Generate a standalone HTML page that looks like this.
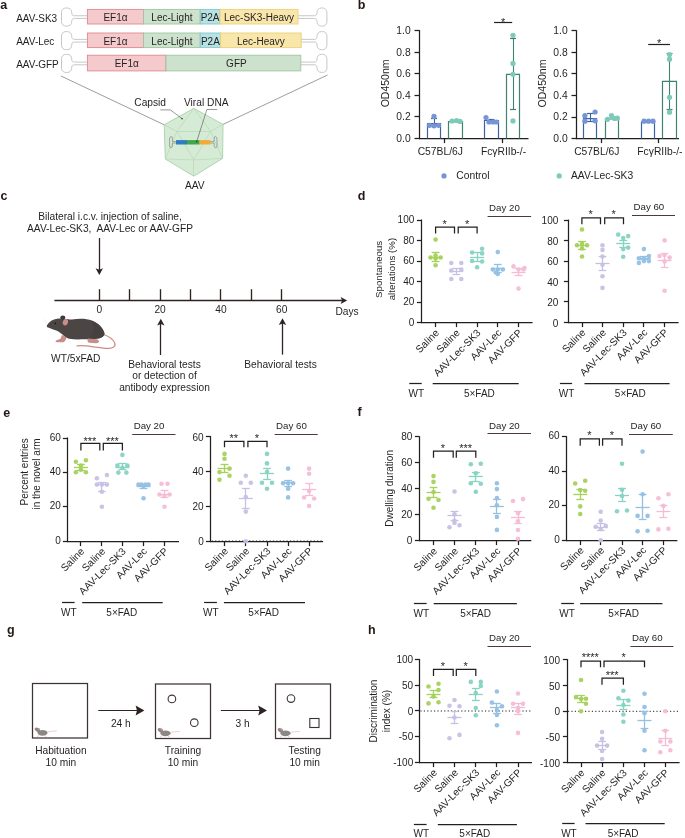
<!DOCTYPE html>
<html><head><meta charset="utf-8"><style>
html,body{margin:0;padding:0;background:#fff;overflow:hidden;}
svg{display:block;will-change:transform;}
svg text{font-family:"Liberation Sans", sans-serif;}
</style></head><body>
<svg width="685" height="838" viewBox="0 0 685 838">
<rect x="0" y="0" width="685" height="838" fill="#fff"/>
<text x="0.30" y="8.70" font-size="12.5" text-anchor="start" font-weight="bold" fill="#231815" >a</text>
<text x="16.20" y="21.70" font-size="10" text-anchor="start" font-weight="normal" fill="#231f20" >AAV-SK3</text>
<path d="M87.40,15.75 L74.30,15.75 C72.40,15.75 71.70,14.75 71.70,12.55 L71.70,12.30 A4.3,4.3 0 0 0 67.40,8.00 L65.80,8.00 A4.3,4.3 0 0 0 61.50,12.30 L61.50,21.80 A4.3,4.3 0 0 0 65.80,26.10 L67.40,26.10 A4.3,4.3 0 0 0 71.70,21.80 L71.70,21.65 C71.70,19.45 72.40,18.45 74.30,18.45 L87.40,18.45" fill="none" stroke="#c4c4c4" stroke-width="0.95"/>
<path d="M298.00,15.75 L314.30,15.75 C316.20,15.75 317.00,14.75 317.00,12.55 L317.00,12.30 A4.3,4.3 0 0 1 321.30,8.00 L322.60,8.00 A4.3,4.3 0 0 1 326.90,12.30 L326.90,21.80 A4.3,4.3 0 0 1 322.60,26.10 L321.30,26.10 A4.3,4.3 0 0 1 317.00,21.80 L317.00,21.65 C317.00,19.45 316.20,18.45 314.30,18.45 L298.00,18.45" fill="none" stroke="#c4c4c4" stroke-width="0.95"/>
<rect x="87.40" y="9.40" width="56.20" height="14.60" fill="#f5cacd" stroke="#de8a90" stroke-width="0.9"/>
<text x="115.50" y="21.10" font-size="10" text-anchor="middle" font-weight="normal" fill="#231f20" >EF1α</text>
<rect x="143.60" y="9.40" width="56.60" height="14.60" fill="#cde2cd" stroke="#9fc59f" stroke-width="0.9"/>
<text x="171.90" y="21.10" font-size="10" text-anchor="middle" font-weight="normal" fill="#231f20" >Lec-Light</text>
<rect x="200.20" y="9.40" width="19.80" height="14.60" fill="#b7e1e2" stroke="#82c8cf" stroke-width="0.9"/>
<text x="210.10" y="21.10" font-size="10" text-anchor="middle" font-weight="normal" fill="#231f20" >P2A</text>
<rect x="220.00" y="9.40" width="78.00" height="14.60" fill="#f8e6ab" stroke="#ead27a" stroke-width="0.9"/>
<text x="259.00" y="21.10" font-size="10" text-anchor="middle" font-weight="normal" fill="#231f20" >Lec-SK3-Heavy</text>
<text x="16.20" y="45.30" font-size="10" text-anchor="start" font-weight="normal" fill="#231f20" >AAV-Lec</text>
<path d="M87.40,39.35 L74.30,39.35 C72.40,39.35 71.70,38.35 71.70,36.15 L71.70,35.90 A4.3,4.3 0 0 0 67.40,31.60 L65.80,31.60 A4.3,4.3 0 0 0 61.50,35.90 L61.50,45.40 A4.3,4.3 0 0 0 65.80,49.70 L67.40,49.70 A4.3,4.3 0 0 0 71.70,45.40 L71.70,45.25 C71.70,43.05 72.40,42.05 74.30,42.05 L87.40,42.05" fill="none" stroke="#c4c4c4" stroke-width="0.95"/>
<path d="M301.20,39.35 L314.30,39.35 C316.20,39.35 317.00,38.35 317.00,36.15 L317.00,35.90 A4.3,4.3 0 0 1 321.30,31.60 L322.60,31.60 A4.3,4.3 0 0 1 326.90,35.90 L326.90,45.40 A4.3,4.3 0 0 1 322.60,49.70 L321.30,49.70 A4.3,4.3 0 0 1 317.00,45.40 L317.00,45.25 C317.00,43.05 316.20,42.05 314.30,42.05 L301.20,42.05" fill="none" stroke="#c4c4c4" stroke-width="0.95"/>
<rect x="87.40" y="33.00" width="56.20" height="14.60" fill="#f5cacd" stroke="#de8a90" stroke-width="0.9"/>
<text x="115.50" y="44.70" font-size="10" text-anchor="middle" font-weight="normal" fill="#231f20" >EF1α</text>
<rect x="143.60" y="33.00" width="56.60" height="14.60" fill="#cde2cd" stroke="#9fc59f" stroke-width="0.9"/>
<text x="171.90" y="44.70" font-size="10" text-anchor="middle" font-weight="normal" fill="#231f20" >Lec-Light</text>
<rect x="200.20" y="33.00" width="20.40" height="14.60" fill="#b7e1e2" stroke="#82c8cf" stroke-width="0.9"/>
<text x="210.40" y="44.70" font-size="10" text-anchor="middle" font-weight="normal" fill="#231f20" >P2A</text>
<rect x="220.60" y="33.00" width="80.60" height="14.60" fill="#f8e6ab" stroke="#ead27a" stroke-width="0.9"/>
<text x="260.90" y="44.70" font-size="10" text-anchor="middle" font-weight="normal" fill="#231f20" >Lec-Heavy</text>
<text x="16.20" y="68.05" font-size="10" text-anchor="start" font-weight="normal" fill="#231f20" >AAV-GFP</text>
<path d="M87.40,62.10 L74.30,62.10 C72.40,62.10 71.70,61.10 71.70,58.90 L71.70,58.65 A4.3,4.3 0 0 0 67.40,54.35 L65.80,54.35 A4.3,4.3 0 0 0 61.50,58.65 L61.50,68.15 A4.3,4.3 0 0 0 65.80,72.45 L67.40,72.45 A4.3,4.3 0 0 0 71.70,68.15 L71.70,68.00 C71.70,65.80 72.40,64.80 74.30,64.80 L87.40,64.80" fill="none" stroke="#c4c4c4" stroke-width="0.95"/>
<path d="M300.80,62.10 L314.30,62.10 C316.20,62.10 317.00,61.10 317.00,58.90 L317.00,58.65 A4.3,4.3 0 0 1 321.30,54.35 L322.60,54.35 A4.3,4.3 0 0 1 326.90,58.65 L326.90,68.15 A4.3,4.3 0 0 1 322.60,72.45 L321.30,72.45 A4.3,4.3 0 0 1 317.00,68.15 L317.00,68.00 C317.00,65.80 316.20,64.80 314.30,64.80 L300.80,64.80" fill="none" stroke="#c4c4c4" stroke-width="0.95"/>
<rect x="87.40" y="55.20" width="78.60" height="15.70" fill="#f5cacd" stroke="#de8a90" stroke-width="0.9"/>
<text x="126.70" y="67.45" font-size="10" text-anchor="middle" font-weight="normal" fill="#231f20" >EF1α</text>
<rect x="166.00" y="55.20" width="134.80" height="15.70" fill="#cde2cd" stroke="#9fc59f" stroke-width="0.9"/>
<text x="236.40" y="67.45" font-size="10" text-anchor="middle" font-weight="normal" fill="#231f20" >GFP</text>
<line x1="61.00" y1="76.00" x2="164.20" y2="124.80" stroke="#5a5a5a" stroke-width="0.6" />
<line x1="327.50" y1="75.00" x2="223.00" y2="124.40" stroke="#5a5a5a" stroke-width="0.6" />
<polygon points="193.8,108.3 223.0,124.4 222.6,158.4 193.8,176.2 165.3,159.0 164.2,124.8" fill="#d6ebd6" stroke="#a9d0a9" stroke-width="0.9"/>
<line x1="193.80" y1="108.30" x2="177.00" y2="131.40" stroke="#b5d8b5" stroke-width="0.7" />
<line x1="193.80" y1="108.30" x2="210.60" y2="131.40" stroke="#b5d8b5" stroke-width="0.7" />
<line x1="177.00" y1="131.50" x2="210.60" y2="131.50" stroke="#b5d8b5" stroke-width="0.7" />
<line x1="177.00" y1="131.40" x2="193.80" y2="159.90" stroke="#b5d8b5" stroke-width="0.7" />
<line x1="210.60" y1="131.40" x2="193.80" y2="159.90" stroke="#b5d8b5" stroke-width="0.7" />
<line x1="193.50" y1="159.90" x2="193.50" y2="176.20" stroke="#b5d8b5" stroke-width="0.7" />
<line x1="164.20" y1="124.80" x2="177.00" y2="131.40" stroke="#b5d8b5" stroke-width="0.7" />
<line x1="223.00" y1="124.40" x2="210.60" y2="131.40" stroke="#b5d8b5" stroke-width="0.7" />
<line x1="177.00" y1="131.40" x2="165.30" y2="159.00" stroke="#b5d8b5" stroke-width="0.7" />
<line x1="210.60" y1="131.40" x2="222.60" y2="158.40" stroke="#b5d8b5" stroke-width="0.7" />
<line x1="165.30" y1="159.00" x2="193.80" y2="159.90" stroke="#b5d8b5" stroke-width="0.7" />
<line x1="222.60" y1="158.40" x2="193.80" y2="159.90" stroke="#b5d8b5" stroke-width="0.7" />
<rect x="176" y="140.1" width="11" height="4.4" fill="#2f7cc2"/>
<rect x="187" y="140.1" width="12.6" height="4.4" fill="#40a84a"/>
<rect x="199.6" y="140.1" width="11" height="4.4" fill="#f2a93a"/>
<path d="M176,141.6 L172.5,141.6 L172.5,139.2 Q172.5,136 170.8,136.5 Q169.6,137 169.6,139 L169.6,145.5 Q169.6,147.6 170.8,147.8 Q172.5,148 172.5,145 L172.5,143 L176,143" fill="none" stroke="#777" stroke-width="0.6"/>
<path d="M210.6,141.6 L214.1,141.6 L214.1,139.2 Q214.1,136 215.8,136.5 Q217,137 217,139 L217,145.5 Q217,147.6 215.8,147.8 Q214.1,148 214.1,145 L214.1,143 L210.6,143" fill="none" stroke="#777" stroke-width="0.6"/>
<text x="134.30" y="106.40" font-size="10.2" text-anchor="start" font-weight="normal" fill="#231f20" >Capsid</text>
<text x="184.00" y="106.40" font-size="10.2" text-anchor="start" font-weight="normal" fill="#231f20" >Viral DNA</text>
<text x="194.70" y="189.40" font-size="10.2" text-anchor="middle" font-weight="normal" fill="#231f20" >AAV</text>
<polyline points="160.2,109.9 170.4,109.9 182.1,118.7" fill="none" stroke="#333" stroke-width="0.5"/>
<circle cx="182.1" cy="118.7" r="0.7" fill="#222"/>
<polyline points="217.2,109.5 206.9,109.5 196.7,141.6" fill="none" stroke="#333" stroke-width="0.5"/>
<circle cx="196.7" cy="141.6" r="0.7" fill="#222"/>
<text x="357.80" y="9.20" font-size="12.5" text-anchor="start" font-weight="bold" fill="#231815" >b</text>
<line x1="419.50" y1="30.10" x2="419.50" y2="139.10" stroke="#231f20" stroke-width="1.25" />
<line x1="414.50" y1="138.50" x2="419.50" y2="138.50" stroke="#231f20" stroke-width="1.25" />
<text x="410.70" y="141.80" font-size="10.3" text-anchor="end" font-weight="normal" fill="#231f20" >0.0</text>
<line x1="414.50" y1="116.50" x2="419.50" y2="116.50" stroke="#231f20" stroke-width="1.25" />
<text x="410.70" y="120.24" font-size="10.3" text-anchor="end" font-weight="normal" fill="#231f20" >0.2</text>
<line x1="414.50" y1="95.50" x2="419.50" y2="95.50" stroke="#231f20" stroke-width="1.25" />
<text x="410.70" y="98.68" font-size="10.3" text-anchor="end" font-weight="normal" fill="#231f20" >0.4</text>
<line x1="414.50" y1="73.50" x2="419.50" y2="73.50" stroke="#231f20" stroke-width="1.25" />
<text x="410.70" y="77.12" font-size="10.3" text-anchor="end" font-weight="normal" fill="#231f20" >0.6</text>
<line x1="414.50" y1="52.50" x2="419.50" y2="52.50" stroke="#231f20" stroke-width="1.25" />
<text x="410.70" y="55.56" font-size="10.3" text-anchor="end" font-weight="normal" fill="#231f20" >0.8</text>
<line x1="414.50" y1="30.50" x2="419.50" y2="30.50" stroke="#231f20" stroke-width="1.25" />
<text x="410.70" y="34.00" font-size="10.3" text-anchor="end" font-weight="normal" fill="#231f20" >1.0</text>
<line x1="418.90" y1="138.50" x2="528.50" y2="138.50" stroke="#231f20" stroke-width="1.25" />
<path d="M427.50,138.50 L427.50,123.60 L440.50,123.60 L440.50,138.50" fill="none" stroke="#3c62a6" stroke-width="1.2"/>
<line x1="434.50" y1="125.50" x2="434.50" y2="118.30" stroke="#3c62a6" stroke-width="1.1" />
<line x1="431.00" y1="118.50" x2="437.00" y2="118.50" stroke="#3c62a6" stroke-width="1.2" />
<line x1="431.00" y1="125.50" x2="437.00" y2="125.50" stroke="#3c62a6" stroke-width="1.2" />
<circle cx="434.00" cy="116.40" r="2.6" fill="#7595d4"/>
<circle cx="429.50" cy="125.30" r="2.6" fill="#7595d4"/>
<circle cx="434.00" cy="125.80" r="2.6" fill="#7595d4"/>
<circle cx="438.50" cy="125.30" r="2.6" fill="#7595d4"/>
<path d="M448.50,138.50 L448.50,121.60 L462.50,121.60 L462.50,138.50" fill="none" stroke="#3f8272" stroke-width="1.2"/>
<circle cx="452.00" cy="121.00" r="2.6" fill="#7ecab8"/>
<circle cx="456.50" cy="120.60" r="2.6" fill="#7ecab8"/>
<circle cx="460.00" cy="121.40" r="2.6" fill="#7ecab8"/>
<path d="M484.50,138.50 L484.50,120.50 L498.50,120.50 L498.50,138.50" fill="none" stroke="#3c62a6" stroke-width="1.2"/>
<line x1="491.50" y1="122.00" x2="491.50" y2="119.80" stroke="#3c62a6" stroke-width="1.1" />
<line x1="488.50" y1="119.50" x2="494.50" y2="119.50" stroke="#3c62a6" stroke-width="1.2" />
<line x1="488.50" y1="122.50" x2="494.50" y2="122.50" stroke="#3c62a6" stroke-width="1.2" />
<circle cx="486.00" cy="117.60" r="2.6" fill="#7595d4"/>
<circle cx="489.00" cy="122.00" r="2.6" fill="#7595d4"/>
<circle cx="493.00" cy="122.00" r="2.6" fill="#7595d4"/>
<circle cx="496.50" cy="122.00" r="2.6" fill="#7595d4"/>
<path d="M506.50,138.50 L506.50,74.30 L519.50,74.30 L519.50,138.50" fill="none" stroke="#3f8272" stroke-width="1.2"/>
<line x1="513.50" y1="109.10" x2="513.50" y2="38.20" stroke="#3f8272" stroke-width="1.1" />
<line x1="510.00" y1="38.50" x2="516.00" y2="38.50" stroke="#3f8272" stroke-width="1.2" />
<line x1="510.00" y1="109.50" x2="516.00" y2="109.50" stroke="#3f8272" stroke-width="1.2" />
<circle cx="513.00" cy="35.30" r="2.6" fill="#7ecab8"/>
<circle cx="513.00" cy="63.40" r="2.6" fill="#7ecab8"/>
<circle cx="513.00" cy="74.30" r="2.6" fill="#7ecab8"/>
<circle cx="513.00" cy="120.90" r="2.6" fill="#7ecab8"/>
<line x1="444.50" y1="138.50" x2="444.50" y2="143.10" stroke="#231f20" stroke-width="1.25" />
<text x="440.30" y="154.80" font-size="10.3" text-anchor="middle" font-weight="normal" fill="#231f20" >C57BL/6J</text>
<line x1="502.50" y1="138.50" x2="502.50" y2="143.10" stroke="#231f20" stroke-width="1.25" />
<text x="503.50" y="154.80" font-size="10.3" text-anchor="middle" font-weight="normal" fill="#231f20" >FcγRIIb-/-</text>
<line x1="494.00" y1="22.50" x2="512.20" y2="22.50" stroke="#231f20" stroke-width="1.2" />
<text x="503.10" y="25.80" font-size="11" text-anchor="middle" font-weight="normal" fill="#231f20" >*</text>
<text x="0" y="0" font-size="10.5" text-anchor="middle" fill="#231f20" transform="translate(388.70,83.40) rotate(-90)">OD450nm</text>
<line x1="576.50" y1="30.20" x2="576.50" y2="139.10" stroke="#231f20" stroke-width="1.25" />
<line x1="571.50" y1="138.50" x2="576.50" y2="138.50" stroke="#231f20" stroke-width="1.25" />
<text x="567.70" y="141.90" font-size="10.3" text-anchor="end" font-weight="normal" fill="#231f20" >0.0</text>
<line x1="571.50" y1="117.50" x2="576.50" y2="117.50" stroke="#231f20" stroke-width="1.25" />
<text x="567.70" y="120.34" font-size="10.3" text-anchor="end" font-weight="normal" fill="#231f20" >0.2</text>
<line x1="571.50" y1="95.50" x2="576.50" y2="95.50" stroke="#231f20" stroke-width="1.25" />
<text x="567.70" y="98.78" font-size="10.3" text-anchor="end" font-weight="normal" fill="#231f20" >0.4</text>
<line x1="571.50" y1="73.50" x2="576.50" y2="73.50" stroke="#231f20" stroke-width="1.25" />
<text x="567.70" y="77.22" font-size="10.3" text-anchor="end" font-weight="normal" fill="#231f20" >0.6</text>
<line x1="571.50" y1="52.50" x2="576.50" y2="52.50" stroke="#231f20" stroke-width="1.25" />
<text x="567.70" y="55.66" font-size="10.3" text-anchor="end" font-weight="normal" fill="#231f20" >0.8</text>
<line x1="571.50" y1="30.50" x2="576.50" y2="30.50" stroke="#231f20" stroke-width="1.25" />
<text x="567.70" y="34.10" font-size="10.3" text-anchor="end" font-weight="normal" fill="#231f20" >1.0</text>
<line x1="575.90" y1="138.50" x2="679.00" y2="138.50" stroke="#231f20" stroke-width="1.25" />
<path d="M583.50,138.60 L583.50,118.60 L596.50,118.60 L596.50,138.60" fill="none" stroke="#3c62a6" stroke-width="1.2"/>
<line x1="590.50" y1="121.50" x2="590.50" y2="113.50" stroke="#3c62a6" stroke-width="1.1" />
<line x1="587.00" y1="113.50" x2="593.00" y2="113.50" stroke="#3c62a6" stroke-width="1.2" />
<line x1="587.00" y1="121.50" x2="593.00" y2="121.50" stroke="#3c62a6" stroke-width="1.2" />
<circle cx="584.90" cy="115.70" r="2.6" fill="#7595d4"/>
<circle cx="595.10" cy="112.00" r="2.6" fill="#7595d4"/>
<circle cx="584.90" cy="121.20" r="2.6" fill="#7595d4"/>
<circle cx="595.10" cy="120.80" r="2.6" fill="#7595d4"/>
<path d="M605.50,138.60 L605.50,119.00 L618.50,119.00 L618.50,138.60" fill="none" stroke="#3f8272" stroke-width="1.2"/>
<circle cx="607.50" cy="119.30" r="2.6" fill="#7ecab8"/>
<circle cx="611.50" cy="115.70" r="2.6" fill="#7ecab8"/>
<circle cx="614.50" cy="118.50" r="2.6" fill="#7ecab8"/>
<circle cx="617.30" cy="118.20" r="2.6" fill="#7ecab8"/>
<path d="M641.50,138.60 L641.50,122.20 L654.50,122.20 L654.50,138.60" fill="none" stroke="#3c62a6" stroke-width="1.2"/>
<circle cx="644.00" cy="121.20" r="2.6" fill="#7595d4"/>
<circle cx="648.50" cy="121.20" r="2.6" fill="#7595d4"/>
<circle cx="653.00" cy="121.20" r="2.6" fill="#7595d4"/>
<path d="M662.50,138.60 L662.50,81.40 L676.50,81.40 L676.50,138.60" fill="none" stroke="#3f8272" stroke-width="1.2"/>
<line x1="669.50" y1="109.20" x2="669.50" y2="53.30" stroke="#3f8272" stroke-width="1.1" />
<line x1="666.50" y1="53.50" x2="672.50" y2="53.50" stroke="#3f8272" stroke-width="1.2" />
<line x1="666.50" y1="109.50" x2="672.50" y2="109.50" stroke="#3f8272" stroke-width="1.2" />
<circle cx="669.50" cy="54.50" r="2.6" fill="#7ecab8"/>
<circle cx="669.50" cy="59.20" r="2.6" fill="#7ecab8"/>
<circle cx="669.50" cy="97.30" r="2.6" fill="#7ecab8"/>
<circle cx="669.50" cy="112.20" r="2.6" fill="#7ecab8"/>
<line x1="601.50" y1="138.50" x2="601.50" y2="143.10" stroke="#231f20" stroke-width="1.25" />
<text x="596.80" y="154.90" font-size="10.3" text-anchor="middle" font-weight="normal" fill="#231f20" >C57BL/6J</text>
<line x1="658.50" y1="138.50" x2="658.50" y2="143.10" stroke="#231f20" stroke-width="1.25" />
<text x="659.90" y="154.90" font-size="10.3" text-anchor="middle" font-weight="normal" fill="#231f20" >FcγRIIb-/-</text>
<line x1="648.20" y1="44.50" x2="670.00" y2="44.50" stroke="#231f20" stroke-width="1.2" />
<text x="659.10" y="46.90" font-size="11" text-anchor="middle" font-weight="normal" fill="#231f20" >*</text>
<text x="0" y="0" font-size="10.5" text-anchor="middle" fill="#231f20" transform="translate(545.80,83.50) rotate(-90)">OD450nm</text>
<circle cx="444.0" cy="175.9" r="2.6" fill="#7595d4"/>
<text x="456.30" y="179.30" font-size="10.3" text-anchor="start" font-weight="normal" fill="#231f20" >Control</text>
<circle cx="559.2" cy="175.9" r="2.6" fill="#7ecab8"/>
<text x="571.00" y="179.30" font-size="10.3" text-anchor="start" font-weight="normal" fill="#231f20" >AAV-Lec-SK3</text>
<text x="0.40" y="200.10" font-size="12.5" text-anchor="start" font-weight="bold" fill="#231815" >c</text>
<text x="110.00" y="219.80" font-size="10.2" text-anchor="middle" font-weight="normal" fill="#231f20" >Bilateral i.c.v. injection of saline,</text>
<text x="110.00" y="232.00" font-size="10.2" text-anchor="middle" font-weight="normal" fill="#231f20" >AAV-Lec-SK3,&#160; AAV-Lec or AAV-GFP</text>
<line x1="99.50" y1="238.00" x2="99.50" y2="271.00" stroke="#2f2222" stroke-width="1.3" />
<path d="M95.60,268.20 L99.30,275.00 L103.00,268.20 L99.30,269.80 Z" fill="#2f2222"/>
<line x1="54.40" y1="300.50" x2="343.20" y2="300.50" stroke="#2f2222" stroke-width="1.3" />
<path d="M340.60,296.90 L347.20,300.50 L340.60,304.10 L342.10,300.50 Z" fill="#2f2222"/>
<line x1="99.50" y1="289.20" x2="99.50" y2="300.50" stroke="#2f2222" stroke-width="1.35" />
<line x1="129.50" y1="289.20" x2="129.50" y2="300.50" stroke="#2f2222" stroke-width="1.35" />
<line x1="160.50" y1="289.20" x2="160.50" y2="300.50" stroke="#2f2222" stroke-width="1.35" />
<line x1="190.50" y1="289.20" x2="190.50" y2="300.50" stroke="#2f2222" stroke-width="1.35" />
<line x1="220.50" y1="289.20" x2="220.50" y2="300.50" stroke="#2f2222" stroke-width="1.35" />
<line x1="251.50" y1="289.20" x2="251.50" y2="300.50" stroke="#2f2222" stroke-width="1.35" />
<line x1="281.50" y1="289.20" x2="281.50" y2="300.50" stroke="#2f2222" stroke-width="1.35" />
<text x="99.30" y="312.60" font-size="10.2" text-anchor="middle" font-weight="normal" fill="#231f20" >0</text>
<text x="160.10" y="312.60" font-size="10.2" text-anchor="middle" font-weight="normal" fill="#231f20" >20</text>
<text x="220.90" y="312.60" font-size="10.2" text-anchor="middle" font-weight="normal" fill="#231f20" >40</text>
<text x="281.70" y="312.60" font-size="10.2" text-anchor="middle" font-weight="normal" fill="#231f20" >60</text>
<text x="335.40" y="315.10" font-size="10.2" text-anchor="start" font-weight="normal" fill="#231f20" >Days</text>
<line x1="160.50" y1="322.80" x2="160.50" y2="355.00" stroke="#2f2222" stroke-width="1.3" />
<path d="M157.10,325.60 L160.80,318.80 L164.50,325.60 L160.80,324.00 Z" fill="#2f2222"/>
<line x1="282.50" y1="322.30" x2="282.50" y2="354.60" stroke="#2f2222" stroke-width="1.3" />
<path d="M278.80,325.10 L282.50,318.30 L286.20,325.10 L282.50,323.50 Z" fill="#2f2222"/>
<text x="164.50" y="367.60" font-size="10.2" text-anchor="middle" font-weight="normal" fill="#231f20" >Behavioral tests</text>
<text x="164.50" y="379.00" font-size="10.2" text-anchor="middle" font-weight="normal" fill="#231f20" >or detection of</text>
<text x="164.50" y="391.00" font-size="10.2" text-anchor="middle" font-weight="normal" fill="#231f20" >antibody expression</text>
<text x="280.50" y="367.60" font-size="10.2" text-anchor="middle" font-weight="normal" fill="#231f20" >Behavioral tests</text>
<text x="75.70" y="361.80" font-size="10.2" text-anchor="middle" font-weight="normal" fill="#231f20" >WT/5xFAD</text>
<path d="M103.5,334.5 C108,336 113,339 114.7,343 C116,346.5 113,348.6 108,348.4 C100,348 92,346.5 86,345.9 C82,345.5 79,345.5 77,345.8" fill="none" stroke="#c98e89" stroke-width="1.25" stroke-linecap="round"/>
<path d="M47,325.2 C49,321.5 53,319.6 57,318.8 C63,317.6 68,319.5 72,319.6 C78,318.4 86,318.2 92,320.6 C98,323 103,327.5 104.4,333 C104.8,336.4 101,338.5 96,338.8 C92,339.5 88,339.3 85,339.2 C80,339.4 74,339.6 69,338.8 C66.5,338 64.5,336.8 63,335 C61,333 59,332 57.5,331 C54,329.8 50.5,328.6 48.2,327.6 C46.8,327 46.5,326 47,325.2 Z" fill="#4b4644"/>
<path d="M92,321 C98,323.5 103,328 104.4,333 C104.8,336.4 101,338.5 96,338.8 C93,339.3 90,339.2 88,339 C93,336 96,331 92,321 Z" fill="#454140"/>
<path d="M62,335 L60.5,338.8 L56,340.6 C55,341.5 55.8,342.2 57,342.2 L63.5,342.2 C65,341.6 66,339.5 66.5,337.2 Z" fill="#c98e89"/>
<path d="M88,338.6 L87.3,341 L88.8,342.8 L96,343.2 C98,343.2 99.5,342.2 99,341 L97.2,339.2 Z" fill="#c98e89"/>
<ellipse cx="62.8" cy="317.4" rx="2.5" ry="2.0" fill="#3d3938"/>
<ellipse cx="65.4" cy="322.2" rx="2.6" ry="3.3" fill="#c98e89" transform="rotate(15 65.4 322.2)"/>
<circle cx="55.3" cy="323.4" r="0.8" fill="#1a1616"/>
<path d="M47,323.5 L44.5,319 M47.3,324 L45,321.5" stroke="#e4e4e4" stroke-width="0.5"/>
<text x="357.80" y="199.70" font-size="12.5" text-anchor="start" font-weight="bold" fill="#231815" >d</text>
<text x="0" y="0" font-size="9.7" text-anchor="middle" fill="#231f20" transform="translate(381.90,269.40) rotate(-90)">Spontaneous</text>
<text x="0" y="0" font-size="9.7" text-anchor="middle" fill="#231f20" transform="translate(394.70,269.10) rotate(-90)">alterations (%)</text>
<line x1="421.50" y1="219.50" x2="421.50" y2="323.10" stroke="#231f20" stroke-width="1.25" />
<line x1="416.90" y1="322.50" x2="421.50" y2="322.50" stroke="#231f20" stroke-width="1.25" />
<text x="414.30" y="325.70" font-size="10.0" text-anchor="end" font-weight="normal" fill="#231f20" >0</text>
<line x1="416.90" y1="302.50" x2="421.50" y2="302.50" stroke="#231f20" stroke-width="1.25" />
<text x="414.30" y="305.18" font-size="10.0" text-anchor="end" font-weight="normal" fill="#231f20" >20</text>
<line x1="416.90" y1="281.50" x2="421.50" y2="281.50" stroke="#231f20" stroke-width="1.25" />
<text x="414.30" y="284.66" font-size="10.0" text-anchor="end" font-weight="normal" fill="#231f20" >40</text>
<line x1="416.90" y1="261.50" x2="421.50" y2="261.50" stroke="#231f20" stroke-width="1.25" />
<text x="414.30" y="264.14" font-size="10.0" text-anchor="end" font-weight="normal" fill="#231f20" >60</text>
<line x1="416.90" y1="240.50" x2="421.50" y2="240.50" stroke="#231f20" stroke-width="1.25" />
<text x="414.30" y="243.62" font-size="10.0" text-anchor="end" font-weight="normal" fill="#231f20" >80</text>
<line x1="416.90" y1="220.50" x2="421.50" y2="220.50" stroke="#231f20" stroke-width="1.25" />
<text x="414.30" y="223.10" font-size="10.0" text-anchor="end" font-weight="normal" fill="#231f20" >100</text>
<line x1="420.90" y1="322.50" x2="532.60" y2="322.50" stroke="#231f20" stroke-width="1.25" />
<line x1="435.50" y1="322.50" x2="435.50" y2="327.10" stroke="#231f20" stroke-width="1.25" />
<text x="0" y="0" font-size="10.2" text-anchor="end" fill="#231f20" transform="translate(439.80,333.50) rotate(-45)">Saline</text>
<line x1="456.50" y1="322.50" x2="456.50" y2="327.10" stroke="#231f20" stroke-width="1.25" />
<text x="0" y="0" font-size="10.2" text-anchor="end" fill="#231f20" transform="translate(460.50,333.50) rotate(-45)">Saline</text>
<line x1="477.50" y1="322.50" x2="477.50" y2="327.10" stroke="#231f20" stroke-width="1.25" />
<text x="0" y="0" font-size="10.2" text-anchor="end" fill="#231f20" transform="translate(481.30,333.50) rotate(-45)">AAV-Lec-SK3</text>
<line x1="497.50" y1="322.50" x2="497.50" y2="327.10" stroke="#231f20" stroke-width="1.25" />
<text x="0" y="0" font-size="10.2" text-anchor="end" fill="#231f20" transform="translate(502.00,333.50) rotate(-45)">AAV-Lec</text>
<line x1="518.50" y1="322.50" x2="518.50" y2="327.10" stroke="#231f20" stroke-width="1.25" />
<text x="0" y="0" font-size="10.2" text-anchor="end" fill="#231f20" transform="translate(522.70,333.50) rotate(-45)">AAV-GFP</text>
<circle cx="435.60" cy="239.60" r="2.3" fill="#a6d15b" fill-opacity="0.95"/>
<circle cx="430.60" cy="257.50" r="2.3" fill="#a6d15b" fill-opacity="0.95"/>
<circle cx="435.60" cy="258.50" r="2.3" fill="#a6d15b" fill-opacity="0.95"/>
<circle cx="440.60" cy="257.50" r="2.3" fill="#a6d15b" fill-opacity="0.95"/>
<circle cx="435.60" cy="255.50" r="2.3" fill="#a6d15b" fill-opacity="0.95"/>
<circle cx="435.60" cy="265.20" r="2.3" fill="#a6d15b" fill-opacity="0.95"/>
<line x1="428.60" y1="257.50" x2="442.60" y2="257.50" stroke="#a6d15b" stroke-width="1.3" />
<line x1="435.50" y1="252.60" x2="435.50" y2="261.00" stroke="#a6d15b" stroke-width="1.3" />
<line x1="431.70" y1="252.50" x2="439.50" y2="252.50" stroke="#a6d15b" stroke-width="1.3" />
<line x1="431.70" y1="261.50" x2="439.50" y2="261.50" stroke="#a6d15b" stroke-width="1.3" />
<circle cx="451.30" cy="263.00" r="2.3" fill="#c5c1e5" fill-opacity="0.95"/>
<circle cx="461.30" cy="263.00" r="2.3" fill="#c5c1e5" fill-opacity="0.95"/>
<circle cx="451.30" cy="270.50" r="2.3" fill="#c5c1e5" fill-opacity="0.95"/>
<circle cx="461.30" cy="269.50" r="2.3" fill="#c5c1e5" fill-opacity="0.95"/>
<circle cx="451.30" cy="279.00" r="2.3" fill="#c5c1e5" fill-opacity="0.95"/>
<circle cx="461.30" cy="279.00" r="2.3" fill="#c5c1e5" fill-opacity="0.95"/>
<line x1="449.30" y1="271.50" x2="463.30" y2="271.50" stroke="#c5c1e5" stroke-width="1.3" />
<line x1="456.50" y1="268.70" x2="456.50" y2="274.00" stroke="#c5c1e5" stroke-width="1.3" />
<line x1="452.40" y1="268.50" x2="460.20" y2="268.50" stroke="#c5c1e5" stroke-width="1.3" />
<line x1="452.40" y1="274.50" x2="460.20" y2="274.50" stroke="#c5c1e5" stroke-width="1.3" />
<circle cx="482.10" cy="248.80" r="2.3" fill="#86d3c2" fill-opacity="0.95"/>
<circle cx="472.10" cy="252.50" r="2.3" fill="#86d3c2" fill-opacity="0.95"/>
<circle cx="482.10" cy="253.40" r="2.3" fill="#86d3c2" fill-opacity="0.95"/>
<circle cx="472.10" cy="261.00" r="2.3" fill="#86d3c2" fill-opacity="0.95"/>
<circle cx="482.10" cy="261.50" r="2.3" fill="#86d3c2" fill-opacity="0.95"/>
<circle cx="477.10" cy="267.20" r="2.3" fill="#86d3c2" fill-opacity="0.95"/>
<line x1="470.10" y1="257.50" x2="484.10" y2="257.50" stroke="#86d3c2" stroke-width="1.3" />
<line x1="477.50" y1="252.60" x2="477.50" y2="261.00" stroke="#86d3c2" stroke-width="1.3" />
<line x1="473.20" y1="252.50" x2="481.00" y2="252.50" stroke="#86d3c2" stroke-width="1.3" />
<line x1="473.20" y1="261.50" x2="481.00" y2="261.50" stroke="#86d3c2" stroke-width="1.3" />
<circle cx="497.80" cy="252.10" r="2.3" fill="#93c0e3" fill-opacity="0.95"/>
<circle cx="492.80" cy="269.50" r="2.3" fill="#93c0e3" fill-opacity="0.95"/>
<circle cx="497.80" cy="269.50" r="2.3" fill="#93c0e3" fill-opacity="0.95"/>
<circle cx="502.80" cy="269.50" r="2.3" fill="#93c0e3" fill-opacity="0.95"/>
<circle cx="495.80" cy="272.50" r="2.3" fill="#93c0e3" fill-opacity="0.95"/>
<circle cx="497.80" cy="274.00" r="2.3" fill="#93c0e3" fill-opacity="0.95"/>
<line x1="490.80" y1="268.50" x2="504.80" y2="268.50" stroke="#93c0e3" stroke-width="1.3" />
<line x1="497.50" y1="264.50" x2="497.50" y2="272.50" stroke="#93c0e3" stroke-width="1.3" />
<line x1="493.90" y1="264.50" x2="501.70" y2="264.50" stroke="#93c0e3" stroke-width="1.3" />
<line x1="493.90" y1="272.50" x2="501.70" y2="272.50" stroke="#93c0e3" stroke-width="1.3" />
<circle cx="513.50" cy="266.40" r="2.3" fill="#f6bcd6" fill-opacity="0.95"/>
<circle cx="518.50" cy="269.50" r="2.3" fill="#f6bcd6" fill-opacity="0.95"/>
<circle cx="523.50" cy="269.50" r="2.3" fill="#f6bcd6" fill-opacity="0.95"/>
<circle cx="524.50" cy="268.00" r="2.3" fill="#f6bcd6" fill-opacity="0.95"/>
<circle cx="518.50" cy="288.60" r="2.3" fill="#f6bcd6" fill-opacity="0.95"/>
<line x1="511.50" y1="272.50" x2="525.50" y2="272.50" stroke="#f6bcd6" stroke-width="1.3" />
<line x1="518.50" y1="268.50" x2="518.50" y2="275.60" stroke="#f6bcd6" stroke-width="1.3" />
<line x1="514.60" y1="268.50" x2="522.40" y2="268.50" stroke="#f6bcd6" stroke-width="1.3" />
<line x1="514.60" y1="275.50" x2="522.40" y2="275.50" stroke="#f6bcd6" stroke-width="1.3" />
<polyline points="435.60,233.60 435.60,227.20 454.50,227.20 454.50,233.60" fill="none" stroke="#231f20" stroke-width="1.25"/>
<text x="444.55" y="228.10" font-size="11" text-anchor="middle" font-weight="normal" fill="#231f20" >*</text>
<polyline points="458.20,233.60 458.20,227.20 477.10,227.20 477.10,233.60" fill="none" stroke="#231f20" stroke-width="1.25"/>
<text x="467.15" y="228.10" font-size="11" text-anchor="middle" font-weight="normal" fill="#231f20" >*</text>
<text x="489.10" y="211.30" font-size="9.7" text-anchor="start" font-weight="normal" fill="#231f20" >Day 20</text>
<line x1="487.60" y1="216.50" x2="531.10" y2="216.50" stroke="#4a3a3a" stroke-width="1.1" />
<line x1="409.30" y1="383.50" x2="421.70" y2="383.50" stroke="#231f20" stroke-width="1.25" />
<line x1="432.70" y1="383.50" x2="518.70" y2="383.50" stroke="#231f20" stroke-width="1.25" />
<text x="416.30" y="396.80" font-size="10.0" text-anchor="middle" font-weight="normal" fill="#231f20" >WT</text>
<text x="479.40" y="396.80" font-size="10.0" text-anchor="middle" font-weight="normal" fill="#231f20" >5×FAD</text>
<line x1="568.50" y1="219.60" x2="568.50" y2="323.10" stroke="#231f20" stroke-width="1.25" />
<line x1="563.90" y1="322.50" x2="568.50" y2="322.50" stroke="#231f20" stroke-width="1.25" />
<text x="558.30" y="326.50" font-size="10.0" text-anchor="end" font-weight="normal" fill="#231f20" >0</text>
<line x1="563.90" y1="301.50" x2="568.50" y2="301.50" stroke="#231f20" stroke-width="1.25" />
<text x="558.30" y="306.06" font-size="10.0" text-anchor="end" font-weight="normal" fill="#231f20" >20</text>
<line x1="563.90" y1="281.50" x2="568.50" y2="281.50" stroke="#231f20" stroke-width="1.25" />
<text x="558.30" y="285.62" font-size="10.0" text-anchor="end" font-weight="normal" fill="#231f20" >40</text>
<line x1="563.90" y1="261.50" x2="568.50" y2="261.50" stroke="#231f20" stroke-width="1.25" />
<text x="558.30" y="265.18" font-size="10.0" text-anchor="end" font-weight="normal" fill="#231f20" >60</text>
<line x1="563.90" y1="240.50" x2="568.50" y2="240.50" stroke="#231f20" stroke-width="1.25" />
<text x="558.30" y="244.74" font-size="10.0" text-anchor="end" font-weight="normal" fill="#231f20" >80</text>
<line x1="563.90" y1="220.50" x2="568.50" y2="220.50" stroke="#231f20" stroke-width="1.25" />
<text x="558.30" y="224.30" font-size="10.0" text-anchor="end" font-weight="normal" fill="#231f20" >100</text>
<line x1="567.90" y1="322.50" x2="678.60" y2="322.50" stroke="#231f20" stroke-width="1.25" />
<line x1="582.50" y1="322.50" x2="582.50" y2="327.10" stroke="#231f20" stroke-width="1.25" />
<text x="0" y="0" font-size="10.2" text-anchor="end" fill="#231f20" transform="translate(586.20,333.20) rotate(-45)">Saline</text>
<line x1="602.50" y1="322.50" x2="602.50" y2="327.10" stroke="#231f20" stroke-width="1.25" />
<text x="0" y="0" font-size="10.2" text-anchor="end" fill="#231f20" transform="translate(606.70,333.20) rotate(-45)">Saline</text>
<line x1="623.50" y1="322.50" x2="623.50" y2="327.10" stroke="#231f20" stroke-width="1.25" />
<text x="0" y="0" font-size="10.2" text-anchor="end" fill="#231f20" transform="translate(627.40,333.20) rotate(-45)">AAV-Lec-SK3</text>
<line x1="643.50" y1="322.50" x2="643.50" y2="327.10" stroke="#231f20" stroke-width="1.25" />
<text x="0" y="0" font-size="10.2" text-anchor="end" fill="#231f20" transform="translate(648.10,333.20) rotate(-45)">AAV-Lec</text>
<line x1="664.50" y1="322.50" x2="664.50" y2="327.10" stroke="#231f20" stroke-width="1.25" />
<text x="0" y="0" font-size="10.2" text-anchor="end" fill="#231f20" transform="translate(668.80,333.20) rotate(-45)">AAV-GFP</text>
<circle cx="582.00" cy="229.50" r="2.3" fill="#a6d15b" fill-opacity="0.95"/>
<circle cx="577.00" cy="245.30" r="2.3" fill="#a6d15b" fill-opacity="0.95"/>
<circle cx="582.00" cy="243.80" r="2.3" fill="#a6d15b" fill-opacity="0.95"/>
<circle cx="587.00" cy="245.30" r="2.3" fill="#a6d15b" fill-opacity="0.95"/>
<circle cx="582.00" cy="248.40" r="2.3" fill="#a6d15b" fill-opacity="0.95"/>
<circle cx="582.00" cy="256.50" r="2.3" fill="#a6d15b" fill-opacity="0.95"/>
<line x1="575.00" y1="245.50" x2="589.00" y2="245.50" stroke="#a6d15b" stroke-width="1.3" />
<line x1="582.50" y1="241.50" x2="582.50" y2="249.10" stroke="#a6d15b" stroke-width="1.3" />
<line x1="578.10" y1="241.50" x2="585.90" y2="241.50" stroke="#a6d15b" stroke-width="1.3" />
<line x1="578.10" y1="249.50" x2="585.90" y2="249.50" stroke="#a6d15b" stroke-width="1.3" />
<circle cx="602.50" cy="245.30" r="2.3" fill="#c5c1e5" fill-opacity="0.95"/>
<circle cx="602.50" cy="249.90" r="2.3" fill="#c5c1e5" fill-opacity="0.95"/>
<circle cx="602.50" cy="256.50" r="2.3" fill="#c5c1e5" fill-opacity="0.95"/>
<circle cx="602.50" cy="264.80" r="2.3" fill="#c5c1e5" fill-opacity="0.95"/>
<circle cx="602.50" cy="276.30" r="2.3" fill="#c5c1e5" fill-opacity="0.95"/>
<circle cx="602.50" cy="287.90" r="2.3" fill="#c5c1e5" fill-opacity="0.95"/>
<line x1="595.50" y1="263.50" x2="609.50" y2="263.50" stroke="#c5c1e5" stroke-width="1.3" />
<line x1="602.50" y1="256.80" x2="602.50" y2="270.30" stroke="#c5c1e5" stroke-width="1.3" />
<line x1="598.60" y1="256.50" x2="606.40" y2="256.50" stroke="#c5c1e5" stroke-width="1.3" />
<line x1="598.60" y1="270.50" x2="606.40" y2="270.50" stroke="#c5c1e5" stroke-width="1.3" />
<circle cx="618.20" cy="234.60" r="2.3" fill="#86d3c2" fill-opacity="0.95"/>
<circle cx="623.20" cy="238.10" r="2.3" fill="#86d3c2" fill-opacity="0.95"/>
<circle cx="628.20" cy="236.10" r="2.3" fill="#86d3c2" fill-opacity="0.95"/>
<circle cx="628.20" cy="247.60" r="2.3" fill="#86d3c2" fill-opacity="0.95"/>
<circle cx="623.20" cy="249.10" r="2.3" fill="#86d3c2" fill-opacity="0.95"/>
<circle cx="623.20" cy="256.80" r="2.3" fill="#86d3c2" fill-opacity="0.95"/>
<line x1="616.20" y1="243.50" x2="630.20" y2="243.50" stroke="#86d3c2" stroke-width="1.3" />
<line x1="623.50" y1="240.20" x2="623.50" y2="247.30" stroke="#86d3c2" stroke-width="1.3" />
<line x1="619.30" y1="240.50" x2="627.10" y2="240.50" stroke="#86d3c2" stroke-width="1.3" />
<line x1="619.30" y1="247.50" x2="627.10" y2="247.50" stroke="#86d3c2" stroke-width="1.3" />
<circle cx="643.90" cy="249.10" r="2.3" fill="#93c0e3" fill-opacity="0.95"/>
<circle cx="638.90" cy="258.30" r="2.3" fill="#93c0e3" fill-opacity="0.95"/>
<circle cx="643.90" cy="258.30" r="2.3" fill="#93c0e3" fill-opacity="0.95"/>
<circle cx="648.90" cy="256.00" r="2.3" fill="#93c0e3" fill-opacity="0.95"/>
<circle cx="638.90" cy="262.90" r="2.3" fill="#93c0e3" fill-opacity="0.95"/>
<circle cx="643.90" cy="261.10" r="2.3" fill="#93c0e3" fill-opacity="0.95"/>
<circle cx="648.90" cy="261.10" r="2.3" fill="#93c0e3" fill-opacity="0.95"/>
<line x1="636.90" y1="258.50" x2="650.90" y2="258.50" stroke="#93c0e3" stroke-width="1.3" />
<line x1="643.50" y1="256.50" x2="643.50" y2="259.50" stroke="#93c0e3" stroke-width="1.3" />
<line x1="640.00" y1="256.50" x2="647.80" y2="256.50" stroke="#93c0e3" stroke-width="1.3" />
<line x1="640.00" y1="259.50" x2="647.80" y2="259.50" stroke="#93c0e3" stroke-width="1.3" />
<circle cx="664.60" cy="240.40" r="2.3" fill="#f6bcd6" fill-opacity="0.95"/>
<circle cx="659.60" cy="256.00" r="2.3" fill="#f6bcd6" fill-opacity="0.95"/>
<circle cx="664.60" cy="255.00" r="2.3" fill="#f6bcd6" fill-opacity="0.95"/>
<circle cx="669.60" cy="257.60" r="2.3" fill="#f6bcd6" fill-opacity="0.95"/>
<circle cx="664.60" cy="261.40" r="2.3" fill="#f6bcd6" fill-opacity="0.95"/>
<circle cx="664.60" cy="290.80" r="2.3" fill="#f6bcd6" fill-opacity="0.95"/>
<line x1="657.60" y1="260.50" x2="671.60" y2="260.50" stroke="#f6bcd6" stroke-width="1.3" />
<line x1="664.50" y1="253.40" x2="664.50" y2="267.20" stroke="#f6bcd6" stroke-width="1.3" />
<line x1="660.70" y1="253.50" x2="668.50" y2="253.50" stroke="#f6bcd6" stroke-width="1.3" />
<line x1="660.70" y1="267.50" x2="668.50" y2="267.50" stroke="#f6bcd6" stroke-width="1.3" />
<polyline points="581.90,224.30 581.90,217.90 600.50,217.90 600.50,224.30" fill="none" stroke="#231f20" stroke-width="1.25"/>
<text x="590.70" y="218.20" font-size="11" text-anchor="middle" font-weight="normal" fill="#231f20" >*</text>
<polyline points="604.70,224.30 604.70,217.90 623.50,217.90 623.50,224.30" fill="none" stroke="#231f20" stroke-width="1.25"/>
<text x="613.60" y="218.20" font-size="11" text-anchor="middle" font-weight="normal" fill="#231f20" >*</text>
<text x="633.50" y="210.30" font-size="9.7" text-anchor="start" font-weight="normal" fill="#231f20" >Day 60</text>
<line x1="632.00" y1="215.50" x2="675.00" y2="215.50" stroke="#4a3a3a" stroke-width="1.1" />
<line x1="559.90" y1="383.50" x2="572.10" y2="383.50" stroke="#231f20" stroke-width="1.25" />
<line x1="584.50" y1="383.50" x2="669.60" y2="383.50" stroke="#231f20" stroke-width="1.25" />
<text x="566.50" y="396.70" font-size="10.0" text-anchor="middle" font-weight="normal" fill="#231f20" >WT</text>
<text x="630.30" y="396.70" font-size="10.0" text-anchor="middle" font-weight="normal" fill="#231f20" >5×FAD</text>
<text x="3.20" y="416.60" font-size="12.5" text-anchor="start" font-weight="bold" fill="#231815" >e</text>
<text x="0" y="0" font-size="10.0" text-anchor="middle" fill="#231f20" transform="translate(28.30,471.80) rotate(-90)">Percent entries</text>
<text x="0" y="0" font-size="10.0" text-anchor="middle" fill="#231f20" transform="translate(40.10,474.00) rotate(-90)">in the novel arm</text>
<line x1="67.50" y1="437.50" x2="67.50" y2="542.10" stroke="#231f20" stroke-width="1.25" />
<line x1="62.90" y1="541.50" x2="67.50" y2="541.50" stroke="#231f20" stroke-width="1.25" />
<text x="60.80" y="543.70" font-size="10.0" text-anchor="end" font-weight="normal" fill="#231f20" >0</text>
<line x1="62.90" y1="506.50" x2="67.50" y2="506.50" stroke="#231f20" stroke-width="1.25" />
<text x="60.80" y="509.37" font-size="10.0" text-anchor="end" font-weight="normal" fill="#231f20" >20</text>
<line x1="62.90" y1="472.50" x2="67.50" y2="472.50" stroke="#231f20" stroke-width="1.25" />
<text x="60.80" y="475.03" font-size="10.0" text-anchor="end" font-weight="normal" fill="#231f20" >40</text>
<line x1="62.90" y1="438.50" x2="67.50" y2="438.50" stroke="#231f20" stroke-width="1.25" />
<text x="60.80" y="440.70" font-size="10.0" text-anchor="end" font-weight="normal" fill="#231f20" >60</text>
<line x1="66.90" y1="541.50" x2="179.00" y2="541.50" stroke="#231f20" stroke-width="1.25" />
<line x1="80.50" y1="541.50" x2="80.50" y2="546.10" stroke="#231f20" stroke-width="1.25" />
<text x="0" y="0" font-size="10.2" text-anchor="end" fill="#231f20" transform="translate(85.10,551.90) rotate(-45)">Saline</text>
<line x1="101.50" y1="541.50" x2="101.50" y2="546.10" stroke="#231f20" stroke-width="1.25" />
<text x="0" y="0" font-size="10.2" text-anchor="end" fill="#231f20" transform="translate(106.10,551.90) rotate(-45)">Saline</text>
<line x1="122.50" y1="541.50" x2="122.50" y2="546.10" stroke="#231f20" stroke-width="1.25" />
<text x="0" y="0" font-size="10.2" text-anchor="end" fill="#231f20" transform="translate(126.60,551.90) rotate(-45)">AAV-Lec-SK3</text>
<line x1="143.50" y1="541.50" x2="143.50" y2="546.10" stroke="#231f20" stroke-width="1.25" />
<text x="0" y="0" font-size="10.2" text-anchor="end" fill="#231f20" transform="translate(147.70,551.90) rotate(-45)">AAV-Lec</text>
<line x1="164.50" y1="541.50" x2="164.50" y2="546.10" stroke="#231f20" stroke-width="1.25" />
<text x="0" y="0" font-size="10.2" text-anchor="end" fill="#231f20" transform="translate(168.70,551.90) rotate(-45)">AAV-GFP</text>
<circle cx="75.90" cy="461.80" r="2.3" fill="#a6d15b" fill-opacity="0.95"/>
<circle cx="85.90" cy="460.20" r="2.3" fill="#a6d15b" fill-opacity="0.95"/>
<circle cx="80.90" cy="465.60" r="2.3" fill="#a6d15b" fill-opacity="0.95"/>
<circle cx="80.90" cy="469.80" r="2.3" fill="#a6d15b" fill-opacity="0.95"/>
<circle cx="75.90" cy="472.20" r="2.3" fill="#a6d15b" fill-opacity="0.95"/>
<circle cx="85.90" cy="472.20" r="2.3" fill="#a6d15b" fill-opacity="0.95"/>
<line x1="73.90" y1="467.50" x2="87.90" y2="467.50" stroke="#a6d15b" stroke-width="1.3" />
<line x1="80.50" y1="464.50" x2="80.50" y2="470.10" stroke="#a6d15b" stroke-width="1.3" />
<line x1="77.00" y1="464.50" x2="84.80" y2="464.50" stroke="#a6d15b" stroke-width="1.3" />
<line x1="77.00" y1="470.50" x2="84.80" y2="470.50" stroke="#a6d15b" stroke-width="1.3" />
<circle cx="96.90" cy="478.20" r="2.3" fill="#c5c1e5" fill-opacity="0.95"/>
<circle cx="106.90" cy="475.00" r="2.3" fill="#c5c1e5" fill-opacity="0.95"/>
<circle cx="96.90" cy="484.60" r="2.3" fill="#c5c1e5" fill-opacity="0.95"/>
<circle cx="101.90" cy="484.60" r="2.3" fill="#c5c1e5" fill-opacity="0.95"/>
<circle cx="106.90" cy="484.60" r="2.3" fill="#c5c1e5" fill-opacity="0.95"/>
<circle cx="101.90" cy="491.80" r="2.3" fill="#c5c1e5" fill-opacity="0.95"/>
<circle cx="101.90" cy="506.80" r="2.3" fill="#c5c1e5" fill-opacity="0.95"/>
<line x1="94.90" y1="484.50" x2="108.90" y2="484.50" stroke="#c5c1e5" stroke-width="1.3" />
<line x1="101.50" y1="482.20" x2="101.50" y2="491.50" stroke="#c5c1e5" stroke-width="1.3" />
<line x1="98.00" y1="482.50" x2="105.80" y2="482.50" stroke="#c5c1e5" stroke-width="1.3" />
<line x1="98.00" y1="491.50" x2="105.80" y2="491.50" stroke="#c5c1e5" stroke-width="1.3" />
<circle cx="122.40" cy="454.90" r="2.3" fill="#86d3c2" fill-opacity="0.95"/>
<circle cx="117.40" cy="465.60" r="2.3" fill="#86d3c2" fill-opacity="0.95"/>
<circle cx="127.40" cy="465.60" r="2.3" fill="#86d3c2" fill-opacity="0.95"/>
<circle cx="122.40" cy="467.70" r="2.3" fill="#86d3c2" fill-opacity="0.95"/>
<circle cx="118.40" cy="472.60" r="2.3" fill="#86d3c2" fill-opacity="0.95"/>
<circle cx="126.40" cy="472.60" r="2.3" fill="#86d3c2" fill-opacity="0.95"/>
<line x1="115.40" y1="467.50" x2="129.40" y2="467.50" stroke="#86d3c2" stroke-width="1.3" />
<line x1="122.50" y1="463.70" x2="122.50" y2="469.30" stroke="#86d3c2" stroke-width="1.3" />
<line x1="118.50" y1="463.50" x2="126.30" y2="463.50" stroke="#86d3c2" stroke-width="1.3" />
<line x1="118.50" y1="469.50" x2="126.30" y2="469.50" stroke="#86d3c2" stroke-width="1.3" />
<circle cx="138.50" cy="484.60" r="2.3" fill="#93c0e3" fill-opacity="0.95"/>
<circle cx="141.50" cy="484.60" r="2.3" fill="#93c0e3" fill-opacity="0.95"/>
<circle cx="145.50" cy="484.60" r="2.3" fill="#93c0e3" fill-opacity="0.95"/>
<circle cx="148.50" cy="484.60" r="2.3" fill="#93c0e3" fill-opacity="0.95"/>
<circle cx="143.50" cy="486.00" r="2.3" fill="#93c0e3" fill-opacity="0.95"/>
<circle cx="143.50" cy="498.30" r="2.3" fill="#93c0e3" fill-opacity="0.95"/>
<line x1="136.50" y1="486.50" x2="150.50" y2="486.50" stroke="#93c0e3" stroke-width="1.3" />
<line x1="143.50" y1="485.40" x2="143.50" y2="488.60" stroke="#93c0e3" stroke-width="1.3" />
<line x1="139.60" y1="485.50" x2="147.40" y2="485.50" stroke="#93c0e3" stroke-width="1.3" />
<line x1="139.60" y1="488.50" x2="147.40" y2="488.50" stroke="#93c0e3" stroke-width="1.3" />
<circle cx="161.50" cy="483.80" r="2.3" fill="#f6bcd6" fill-opacity="0.95"/>
<circle cx="167.50" cy="483.80" r="2.3" fill="#f6bcd6" fill-opacity="0.95"/>
<circle cx="159.50" cy="494.50" r="2.3" fill="#f6bcd6" fill-opacity="0.95"/>
<circle cx="169.50" cy="494.50" r="2.3" fill="#f6bcd6" fill-opacity="0.95"/>
<circle cx="164.50" cy="496.00" r="2.3" fill="#f6bcd6" fill-opacity="0.95"/>
<circle cx="164.50" cy="506.80" r="2.3" fill="#f6bcd6" fill-opacity="0.95"/>
<line x1="157.50" y1="494.50" x2="171.50" y2="494.50" stroke="#f6bcd6" stroke-width="1.3" />
<line x1="164.50" y1="490.70" x2="164.50" y2="497.50" stroke="#f6bcd6" stroke-width="1.3" />
<line x1="160.60" y1="490.50" x2="168.40" y2="490.50" stroke="#f6bcd6" stroke-width="1.3" />
<line x1="160.60" y1="497.50" x2="168.40" y2="497.50" stroke="#f6bcd6" stroke-width="1.3" />
<polyline points="80.90,450.40 80.90,443.40 99.80,443.40 99.80,450.40" fill="none" stroke="#231f20" stroke-width="1.25"/>
<text x="89.85" y="445.30" font-size="11" text-anchor="middle" font-weight="normal" fill="#231f20" >***</text>
<polyline points="103.30,450.40 103.30,443.40 122.40,443.40 122.40,450.40" fill="none" stroke="#231f20" stroke-width="1.25"/>
<text x="112.35" y="445.30" font-size="11" text-anchor="middle" font-weight="normal" fill="#231f20" >***</text>
<text x="133.70" y="429.20" font-size="9.7" text-anchor="start" font-weight="normal" fill="#231f20" >Day 20</text>
<line x1="132.20" y1="434.50" x2="175.50" y2="434.50" stroke="#4a3a3a" stroke-width="1.1" />
<line x1="62.00" y1="602.50" x2="74.60" y2="602.50" stroke="#231f20" stroke-width="1.25" />
<line x1="82.20" y1="602.50" x2="162.70" y2="602.50" stroke="#231f20" stroke-width="1.25" />
<text x="68.80" y="616.00" font-size="10.0" text-anchor="middle" font-weight="normal" fill="#231f20" >WT</text>
<text x="121.80" y="616.00" font-size="10.0" text-anchor="middle" font-weight="normal" fill="#231f20" >5×FAD</text>
<line x1="210.50" y1="436.10" x2="210.50" y2="542.10" stroke="#231f20" stroke-width="1.25" />
<line x1="205.90" y1="541.50" x2="210.50" y2="541.50" stroke="#231f20" stroke-width="1.25" />
<text x="203.70" y="544.80" font-size="10.0" text-anchor="end" font-weight="normal" fill="#231f20" >0</text>
<line x1="205.90" y1="506.50" x2="210.50" y2="506.50" stroke="#231f20" stroke-width="1.25" />
<text x="203.70" y="510.03" font-size="10.0" text-anchor="end" font-weight="normal" fill="#231f20" >20</text>
<line x1="205.90" y1="471.50" x2="210.50" y2="471.50" stroke="#231f20" stroke-width="1.25" />
<text x="203.70" y="475.27" font-size="10.0" text-anchor="end" font-weight="normal" fill="#231f20" >40</text>
<line x1="205.90" y1="436.50" x2="210.50" y2="436.50" stroke="#231f20" stroke-width="1.25" />
<text x="203.70" y="440.50" font-size="10.0" text-anchor="end" font-weight="normal" fill="#231f20" >60</text>
<line x1="209.90" y1="541.50" x2="323.10" y2="541.50" stroke="#231f20" stroke-width="1.25" />
<line x1="211.70" y1="541.00" x2="323.10" y2="541.00" stroke="#231f20" stroke-width="1" stroke-dasharray="1.2,2.2"/>
<line x1="224.50" y1="541.50" x2="224.50" y2="546.10" stroke="#231f20" stroke-width="1.25" />
<text x="0" y="0" font-size="10.2" text-anchor="end" fill="#231f20" transform="translate(228.70,551.80) rotate(-45)">Saline</text>
<line x1="245.50" y1="541.50" x2="245.50" y2="546.10" stroke="#231f20" stroke-width="1.25" />
<text x="0" y="0" font-size="10.2" text-anchor="end" fill="#231f20" transform="translate(250.00,551.80) rotate(-45)">Saline</text>
<line x1="267.50" y1="541.50" x2="267.50" y2="546.10" stroke="#231f20" stroke-width="1.25" />
<text x="0" y="0" font-size="10.2" text-anchor="end" fill="#231f20" transform="translate(271.20,551.80) rotate(-45)">AAV-Lec-SK3</text>
<line x1="288.50" y1="541.50" x2="288.50" y2="546.10" stroke="#231f20" stroke-width="1.25" />
<text x="0" y="0" font-size="10.2" text-anchor="end" fill="#231f20" transform="translate(292.30,551.80) rotate(-45)">AAV-Lec</text>
<line x1="309.50" y1="541.50" x2="309.50" y2="546.10" stroke="#231f20" stroke-width="1.25" />
<text x="0" y="0" font-size="10.2" text-anchor="end" fill="#231f20" transform="translate(313.30,551.80) rotate(-45)">AAV-GFP</text>
<circle cx="224.50" cy="453.90" r="2.3" fill="#a6d15b" fill-opacity="0.95"/>
<circle cx="224.50" cy="458.70" r="2.3" fill="#a6d15b" fill-opacity="0.95"/>
<circle cx="219.50" cy="472.10" r="2.3" fill="#a6d15b" fill-opacity="0.95"/>
<circle cx="229.50" cy="468.60" r="2.3" fill="#a6d15b" fill-opacity="0.95"/>
<circle cx="229.50" cy="475.70" r="2.3" fill="#a6d15b" fill-opacity="0.95"/>
<circle cx="219.50" cy="479.70" r="2.3" fill="#a6d15b" fill-opacity="0.95"/>
<line x1="217.50" y1="468.50" x2="231.50" y2="468.50" stroke="#a6d15b" stroke-width="1.3" />
<line x1="224.50" y1="464.30" x2="224.50" y2="472.10" stroke="#a6d15b" stroke-width="1.3" />
<line x1="220.60" y1="464.50" x2="228.40" y2="464.50" stroke="#a6d15b" stroke-width="1.3" />
<line x1="220.60" y1="472.50" x2="228.40" y2="472.50" stroke="#a6d15b" stroke-width="1.3" />
<circle cx="245.80" cy="475.70" r="2.3" fill="#c5c1e5" fill-opacity="0.95"/>
<circle cx="240.80" cy="482.80" r="2.3" fill="#c5c1e5" fill-opacity="0.95"/>
<circle cx="250.80" cy="482.80" r="2.3" fill="#c5c1e5" fill-opacity="0.95"/>
<circle cx="245.80" cy="497.00" r="2.3" fill="#c5c1e5" fill-opacity="0.95"/>
<circle cx="245.80" cy="511.60" r="2.3" fill="#c5c1e5" fill-opacity="0.95"/>
<circle cx="245.80" cy="541.20" r="2.3" fill="#c5c1e5" fill-opacity="0.95"/>
<line x1="238.80" y1="498.50" x2="252.80" y2="498.50" stroke="#c5c1e5" stroke-width="1.3" />
<line x1="245.50" y1="488.70" x2="245.50" y2="508.80" stroke="#c5c1e5" stroke-width="1.3" />
<line x1="241.90" y1="488.50" x2="249.70" y2="488.50" stroke="#c5c1e5" stroke-width="1.3" />
<line x1="241.90" y1="508.50" x2="249.70" y2="508.50" stroke="#c5c1e5" stroke-width="1.3" />
<circle cx="267.00" cy="453.90" r="2.3" fill="#86d3c2" fill-opacity="0.95"/>
<circle cx="267.00" cy="463.40" r="2.3" fill="#86d3c2" fill-opacity="0.95"/>
<circle cx="262.00" cy="482.80" r="2.3" fill="#86d3c2" fill-opacity="0.95"/>
<circle cx="272.00" cy="482.80" r="2.3" fill="#86d3c2" fill-opacity="0.95"/>
<circle cx="267.00" cy="488.70" r="2.3" fill="#86d3c2" fill-opacity="0.95"/>
<circle cx="267.00" cy="472.00" r="2.3" fill="#86d3c2" fill-opacity="0.95"/>
<line x1="260.00" y1="473.50" x2="274.00" y2="473.50" stroke="#86d3c2" stroke-width="1.3" />
<line x1="267.50" y1="468.10" x2="267.50" y2="479.20" stroke="#86d3c2" stroke-width="1.3" />
<line x1="263.10" y1="468.50" x2="270.90" y2="468.50" stroke="#86d3c2" stroke-width="1.3" />
<line x1="263.10" y1="479.50" x2="270.90" y2="479.50" stroke="#86d3c2" stroke-width="1.3" />
<circle cx="288.10" cy="468.60" r="2.3" fill="#93c0e3" fill-opacity="0.95"/>
<circle cx="283.10" cy="483.30" r="2.3" fill="#93c0e3" fill-opacity="0.95"/>
<circle cx="288.10" cy="483.30" r="2.3" fill="#93c0e3" fill-opacity="0.95"/>
<circle cx="293.10" cy="483.30" r="2.3" fill="#93c0e3" fill-opacity="0.95"/>
<circle cx="288.10" cy="488.70" r="2.3" fill="#93c0e3" fill-opacity="0.95"/>
<circle cx="288.10" cy="497.40" r="2.3" fill="#93c0e3" fill-opacity="0.95"/>
<line x1="281.10" y1="482.50" x2="295.10" y2="482.50" stroke="#93c0e3" stroke-width="1.3" />
<line x1="288.50" y1="480.40" x2="288.50" y2="486.30" stroke="#93c0e3" stroke-width="1.3" />
<line x1="284.20" y1="480.50" x2="292.00" y2="480.50" stroke="#93c0e3" stroke-width="1.3" />
<line x1="284.20" y1="486.50" x2="292.00" y2="486.50" stroke="#93c0e3" stroke-width="1.3" />
<circle cx="309.10" cy="468.60" r="2.3" fill="#f6bcd6" fill-opacity="0.95"/>
<circle cx="309.10" cy="473.80" r="2.3" fill="#f6bcd6" fill-opacity="0.95"/>
<circle cx="309.10" cy="491.00" r="2.3" fill="#f6bcd6" fill-opacity="0.95"/>
<circle cx="304.10" cy="497.50" r="2.3" fill="#f6bcd6" fill-opacity="0.95"/>
<circle cx="314.10" cy="498.50" r="2.3" fill="#f6bcd6" fill-opacity="0.95"/>
<circle cx="309.10" cy="506.00" r="2.3" fill="#f6bcd6" fill-opacity="0.95"/>
<line x1="302.10" y1="489.50" x2="316.10" y2="489.50" stroke="#f6bcd6" stroke-width="1.3" />
<line x1="309.50" y1="483.30" x2="309.50" y2="495.80" stroke="#f6bcd6" stroke-width="1.3" />
<line x1="305.20" y1="483.50" x2="313.00" y2="483.50" stroke="#f6bcd6" stroke-width="1.3" />
<line x1="305.20" y1="495.50" x2="313.00" y2="495.50" stroke="#f6bcd6" stroke-width="1.3" />
<polyline points="224.50,447.30 224.50,441.40 243.90,441.40 243.90,447.30" fill="none" stroke="#231f20" stroke-width="1.25"/>
<text x="233.70" y="441.90" font-size="11" text-anchor="middle" font-weight="normal" fill="#231f20" >**</text>
<polyline points="247.90,447.30 247.90,441.40 267.00,441.40 267.00,447.30" fill="none" stroke="#231f20" stroke-width="1.25"/>
<text x="256.95" y="441.90" font-size="11" text-anchor="middle" font-weight="normal" fill="#231f20" >*</text>
<text x="276.10" y="428.80" font-size="9.7" text-anchor="start" font-weight="normal" fill="#231f20" >Day 60</text>
<line x1="274.60" y1="434.50" x2="317.70" y2="434.50" stroke="#4a3a3a" stroke-width="1.1" />
<line x1="204.10" y1="602.50" x2="216.90" y2="602.50" stroke="#231f20" stroke-width="1.25" />
<line x1="223.90" y1="602.50" x2="305.00" y2="602.50" stroke="#231f20" stroke-width="1.25" />
<text x="210.80" y="615.80" font-size="10.0" text-anchor="middle" font-weight="normal" fill="#231f20" >WT</text>
<text x="263.60" y="615.80" font-size="10.0" text-anchor="middle" font-weight="normal" fill="#231f20" >5×FAD</text>
<text x="357.60" y="415.60" font-size="12.5" text-anchor="start" font-weight="bold" fill="#231815" >f</text>
<text x="0" y="0" font-size="10.0" text-anchor="middle" fill="#231f20" transform="translate(392.90,488.40) rotate(-90)">Dwelling duration</text>
<line x1="419.50" y1="436.30" x2="419.50" y2="541.10" stroke="#231f20" stroke-width="1.25" />
<line x1="414.90" y1="540.50" x2="419.50" y2="540.50" stroke="#231f20" stroke-width="1.25" />
<text x="412.40" y="544.10" font-size="10.0" text-anchor="end" font-weight="normal" fill="#231f20" >0</text>
<line x1="414.90" y1="514.50" x2="419.50" y2="514.50" stroke="#231f20" stroke-width="1.25" />
<text x="412.40" y="518.10" font-size="10.0" text-anchor="end" font-weight="normal" fill="#231f20" >20</text>
<line x1="414.90" y1="488.50" x2="419.50" y2="488.50" stroke="#231f20" stroke-width="1.25" />
<text x="412.40" y="492.10" font-size="10.0" text-anchor="end" font-weight="normal" fill="#231f20" >40</text>
<line x1="414.90" y1="462.50" x2="419.50" y2="462.50" stroke="#231f20" stroke-width="1.25" />
<text x="412.40" y="466.10" font-size="10.0" text-anchor="end" font-weight="normal" fill="#231f20" >60</text>
<line x1="414.90" y1="436.50" x2="419.50" y2="436.50" stroke="#231f20" stroke-width="1.25" />
<text x="412.40" y="440.10" font-size="10.0" text-anchor="end" font-weight="normal" fill="#231f20" >80</text>
<line x1="418.90" y1="540.50" x2="531.30" y2="540.50" stroke="#231f20" stroke-width="1.25" />
<line x1="433.50" y1="540.50" x2="433.50" y2="545.10" stroke="#231f20" stroke-width="1.25" />
<text x="0" y="0" font-size="10.2" text-anchor="end" fill="#231f20" transform="translate(437.70,551.70) rotate(-45)">Saline</text>
<line x1="454.50" y1="540.50" x2="454.50" y2="545.10" stroke="#231f20" stroke-width="1.25" />
<text x="0" y="0" font-size="10.2" text-anchor="end" fill="#231f20" transform="translate(458.70,551.70) rotate(-45)">Saline</text>
<line x1="475.50" y1="540.50" x2="475.50" y2="545.10" stroke="#231f20" stroke-width="1.25" />
<text x="0" y="0" font-size="10.2" text-anchor="end" fill="#231f20" transform="translate(480.00,551.70) rotate(-45)">AAV-Lec-SK3</text>
<line x1="496.50" y1="540.50" x2="496.50" y2="545.10" stroke="#231f20" stroke-width="1.25" />
<text x="0" y="0" font-size="10.2" text-anchor="end" fill="#231f20" transform="translate(501.10,551.70) rotate(-45)">AAV-Lec</text>
<line x1="518.50" y1="540.50" x2="518.50" y2="545.10" stroke="#231f20" stroke-width="1.25" />
<text x="0" y="0" font-size="10.2" text-anchor="end" fill="#231f20" transform="translate(522.20,551.70) rotate(-45)">AAV-GFP</text>
<circle cx="433.50" cy="476.10" r="2.3" fill="#a6d15b" fill-opacity="0.95"/>
<circle cx="433.50" cy="481.90" r="2.3" fill="#a6d15b" fill-opacity="0.95"/>
<circle cx="433.50" cy="492.00" r="2.3" fill="#a6d15b" fill-opacity="0.95"/>
<circle cx="428.50" cy="498.80" r="2.3" fill="#a6d15b" fill-opacity="0.95"/>
<circle cx="438.50" cy="500.00" r="2.3" fill="#a6d15b" fill-opacity="0.95"/>
<circle cx="433.50" cy="507.80" r="2.3" fill="#a6d15b" fill-opacity="0.95"/>
<line x1="426.50" y1="492.50" x2="440.50" y2="492.50" stroke="#a6d15b" stroke-width="1.3" />
<line x1="433.50" y1="487.80" x2="433.50" y2="497.50" stroke="#a6d15b" stroke-width="1.3" />
<line x1="429.60" y1="487.50" x2="437.40" y2="487.50" stroke="#a6d15b" stroke-width="1.3" />
<line x1="429.60" y1="497.50" x2="437.40" y2="497.50" stroke="#a6d15b" stroke-width="1.3" />
<circle cx="454.50" cy="491.50" r="2.3" fill="#c5c1e5" fill-opacity="0.95"/>
<circle cx="454.50" cy="514.30" r="2.3" fill="#c5c1e5" fill-opacity="0.95"/>
<circle cx="454.50" cy="520.80" r="2.3" fill="#c5c1e5" fill-opacity="0.95"/>
<circle cx="449.50" cy="527.30" r="2.3" fill="#c5c1e5" fill-opacity="0.95"/>
<circle cx="459.50" cy="525.30" r="2.3" fill="#c5c1e5" fill-opacity="0.95"/>
<circle cx="454.50" cy="523.00" r="2.3" fill="#c5c1e5" fill-opacity="0.95"/>
<line x1="447.50" y1="515.50" x2="461.50" y2="515.50" stroke="#c5c1e5" stroke-width="1.3" />
<line x1="454.50" y1="511.00" x2="454.50" y2="520.80" stroke="#c5c1e5" stroke-width="1.3" />
<line x1="450.60" y1="511.50" x2="458.40" y2="511.50" stroke="#c5c1e5" stroke-width="1.3" />
<line x1="450.60" y1="520.50" x2="458.40" y2="520.50" stroke="#c5c1e5" stroke-width="1.3" />
<circle cx="470.80" cy="464.20" r="2.3" fill="#86d3c2" fill-opacity="0.95"/>
<circle cx="480.80" cy="463.70" r="2.3" fill="#86d3c2" fill-opacity="0.95"/>
<circle cx="475.80" cy="473.30" r="2.3" fill="#86d3c2" fill-opacity="0.95"/>
<circle cx="470.80" cy="483.20" r="2.3" fill="#86d3c2" fill-opacity="0.95"/>
<circle cx="480.80" cy="483.70" r="2.3" fill="#86d3c2" fill-opacity="0.95"/>
<circle cx="475.80" cy="491.70" r="2.3" fill="#86d3c2" fill-opacity="0.95"/>
<line x1="468.80" y1="476.50" x2="482.80" y2="476.50" stroke="#86d3c2" stroke-width="1.3" />
<line x1="475.50" y1="472.20" x2="475.50" y2="481.90" stroke="#86d3c2" stroke-width="1.3" />
<line x1="471.90" y1="472.50" x2="479.70" y2="472.50" stroke="#86d3c2" stroke-width="1.3" />
<line x1="471.90" y1="481.50" x2="479.70" y2="481.50" stroke="#86d3c2" stroke-width="1.3" />
<circle cx="496.90" cy="483.20" r="2.3" fill="#93c0e3" fill-opacity="0.95"/>
<circle cx="496.90" cy="489.10" r="2.3" fill="#93c0e3" fill-opacity="0.95"/>
<circle cx="496.90" cy="505.20" r="2.3" fill="#93c0e3" fill-opacity="0.95"/>
<circle cx="496.90" cy="516.90" r="2.3" fill="#93c0e3" fill-opacity="0.95"/>
<circle cx="496.90" cy="529.90" r="2.3" fill="#93c0e3" fill-opacity="0.95"/>
<circle cx="496.90" cy="498.00" r="2.3" fill="#93c0e3" fill-opacity="0.95"/>
<line x1="489.90" y1="506.50" x2="503.90" y2="506.50" stroke="#93c0e3" stroke-width="1.3" />
<line x1="496.50" y1="499.30" x2="496.50" y2="513.00" stroke="#93c0e3" stroke-width="1.3" />
<line x1="493.00" y1="499.50" x2="500.80" y2="499.50" stroke="#93c0e3" stroke-width="1.3" />
<line x1="493.00" y1="513.50" x2="500.80" y2="513.50" stroke="#93c0e3" stroke-width="1.3" />
<circle cx="513.00" cy="501.00" r="2.3" fill="#f6bcd6" fill-opacity="0.95"/>
<circle cx="523.00" cy="499.10" r="2.3" fill="#f6bcd6" fill-opacity="0.95"/>
<circle cx="518.00" cy="513.20" r="2.3" fill="#f6bcd6" fill-opacity="0.95"/>
<circle cx="518.00" cy="521.30" r="2.3" fill="#f6bcd6" fill-opacity="0.95"/>
<circle cx="518.00" cy="530.00" r="2.3" fill="#f6bcd6" fill-opacity="0.95"/>
<circle cx="518.00" cy="538.80" r="2.3" fill="#f6bcd6" fill-opacity="0.95"/>
<line x1="511.00" y1="517.50" x2="525.00" y2="517.50" stroke="#f6bcd6" stroke-width="1.3" />
<line x1="518.50" y1="511.30" x2="518.50" y2="523.20" stroke="#f6bcd6" stroke-width="1.3" />
<line x1="514.10" y1="511.50" x2="521.90" y2="511.50" stroke="#f6bcd6" stroke-width="1.3" />
<line x1="514.10" y1="523.50" x2="521.90" y2="523.50" stroke="#f6bcd6" stroke-width="1.3" />
<polyline points="433.50,457.70 433.50,451.20 453.20,451.20 453.20,457.70" fill="none" stroke="#231f20" stroke-width="1.25"/>
<text x="442.85" y="451.90" font-size="11" text-anchor="middle" font-weight="normal" fill="#231f20" >*</text>
<polyline points="456.30,457.70 456.30,451.20 475.80,451.20 475.80,457.70" fill="none" stroke="#231f20" stroke-width="1.25"/>
<text x="465.55" y="451.90" font-size="11" text-anchor="middle" font-weight="normal" fill="#231f20" >***</text>
<text x="489.00" y="429.00" font-size="9.7" text-anchor="start" font-weight="normal" fill="#231f20" >Day 20</text>
<line x1="487.50" y1="433.50" x2="531.00" y2="433.50" stroke="#4a3a3a" stroke-width="1.1" />
<line x1="413.90" y1="603.50" x2="426.60" y2="603.50" stroke="#231f20" stroke-width="1.25" />
<line x1="433.70" y1="603.50" x2="516.90" y2="603.50" stroke="#231f20" stroke-width="1.25" />
<text x="421.30" y="616.50" font-size="10.0" text-anchor="middle" font-weight="normal" fill="#231f20" >WT</text>
<text x="475.60" y="616.50" font-size="10.0" text-anchor="middle" font-weight="normal" fill="#231f20" >5×FAD</text>
<line x1="566.50" y1="436.10" x2="566.50" y2="541.10" stroke="#231f20" stroke-width="1.25" />
<line x1="561.90" y1="540.50" x2="566.50" y2="540.50" stroke="#231f20" stroke-width="1.25" />
<text x="559.70" y="542.70" font-size="10.0" text-anchor="end" font-weight="normal" fill="#231f20" >0</text>
<line x1="561.90" y1="505.50" x2="566.50" y2="505.50" stroke="#231f20" stroke-width="1.25" />
<text x="559.70" y="508.20" font-size="10.0" text-anchor="end" font-weight="normal" fill="#231f20" >20</text>
<line x1="561.90" y1="471.50" x2="566.50" y2="471.50" stroke="#231f20" stroke-width="1.25" />
<text x="559.70" y="473.70" font-size="10.0" text-anchor="end" font-weight="normal" fill="#231f20" >40</text>
<line x1="561.90" y1="436.50" x2="566.50" y2="436.50" stroke="#231f20" stroke-width="1.25" />
<text x="559.70" y="439.20" font-size="10.0" text-anchor="end" font-weight="normal" fill="#231f20" >60</text>
<line x1="565.90" y1="540.50" x2="677.40" y2="540.50" stroke="#231f20" stroke-width="1.25" />
<line x1="580.50" y1="540.50" x2="580.50" y2="545.10" stroke="#231f20" stroke-width="1.25" />
<text x="0" y="0" font-size="10.2" text-anchor="end" fill="#231f20" transform="translate(584.40,551.00) rotate(-45)">Saline</text>
<line x1="600.50" y1="540.50" x2="600.50" y2="545.10" stroke="#231f20" stroke-width="1.25" />
<text x="0" y="0" font-size="10.2" text-anchor="end" fill="#231f20" transform="translate(604.90,551.00) rotate(-45)">Saline</text>
<line x1="622.50" y1="540.50" x2="622.50" y2="545.10" stroke="#231f20" stroke-width="1.25" />
<text x="0" y="0" font-size="10.2" text-anchor="end" fill="#231f20" transform="translate(626.20,551.00) rotate(-45)">AAV-Lec-SK3</text>
<line x1="642.50" y1="540.50" x2="642.50" y2="545.10" stroke="#231f20" stroke-width="1.25" />
<text x="0" y="0" font-size="10.2" text-anchor="end" fill="#231f20" transform="translate(646.80,551.00) rotate(-45)">AAV-Lec</text>
<line x1="663.50" y1="540.50" x2="663.50" y2="545.10" stroke="#231f20" stroke-width="1.25" />
<text x="0" y="0" font-size="10.2" text-anchor="end" fill="#231f20" transform="translate(667.60,551.00) rotate(-45)">AAV-GFP</text>
<circle cx="575.20" cy="483.50" r="2.3" fill="#a6d15b" fill-opacity="0.95"/>
<circle cx="585.20" cy="480.80" r="2.3" fill="#a6d15b" fill-opacity="0.95"/>
<circle cx="580.20" cy="490.00" r="2.3" fill="#a6d15b" fill-opacity="0.95"/>
<circle cx="585.20" cy="490.80" r="2.3" fill="#a6d15b" fill-opacity="0.95"/>
<circle cx="580.20" cy="506.40" r="2.3" fill="#a6d15b" fill-opacity="0.95"/>
<circle cx="580.20" cy="514.00" r="2.3" fill="#a6d15b" fill-opacity="0.95"/>
<line x1="573.20" y1="494.50" x2="587.20" y2="494.50" stroke="#a6d15b" stroke-width="1.3" />
<line x1="580.50" y1="489.70" x2="580.50" y2="499.70" stroke="#a6d15b" stroke-width="1.3" />
<line x1="576.30" y1="489.50" x2="584.10" y2="489.50" stroke="#a6d15b" stroke-width="1.3" />
<line x1="576.30" y1="499.50" x2="584.10" y2="499.50" stroke="#a6d15b" stroke-width="1.3" />
<circle cx="600.70" cy="511.80" r="2.3" fill="#c5c1e5" fill-opacity="0.95"/>
<circle cx="600.70" cy="520.50" r="2.3" fill="#c5c1e5" fill-opacity="0.95"/>
<circle cx="595.70" cy="526.70" r="2.3" fill="#c5c1e5" fill-opacity="0.95"/>
<circle cx="605.70" cy="525.90" r="2.3" fill="#c5c1e5" fill-opacity="0.95"/>
<circle cx="600.70" cy="529.00" r="2.3" fill="#c5c1e5" fill-opacity="0.95"/>
<circle cx="600.70" cy="540.20" r="2.3" fill="#c5c1e5" fill-opacity="0.95"/>
<line x1="593.70" y1="527.50" x2="607.70" y2="527.50" stroke="#c5c1e5" stroke-width="1.3" />
<line x1="600.50" y1="523.20" x2="600.50" y2="530.70" stroke="#c5c1e5" stroke-width="1.3" />
<line x1="596.80" y1="523.50" x2="604.60" y2="523.50" stroke="#c5c1e5" stroke-width="1.3" />
<line x1="596.80" y1="530.50" x2="604.60" y2="530.50" stroke="#c5c1e5" stroke-width="1.3" />
<circle cx="622.00" cy="463.70" r="2.3" fill="#86d3c2" fill-opacity="0.95"/>
<circle cx="622.00" cy="489.70" r="2.3" fill="#86d3c2" fill-opacity="0.95"/>
<circle cx="622.00" cy="496.00" r="2.3" fill="#86d3c2" fill-opacity="0.95"/>
<circle cx="617.00" cy="511.30" r="2.3" fill="#86d3c2" fill-opacity="0.95"/>
<circle cx="627.00" cy="510.50" r="2.3" fill="#86d3c2" fill-opacity="0.95"/>
<line x1="615.00" y1="495.50" x2="629.00" y2="495.50" stroke="#86d3c2" stroke-width="1.3" />
<line x1="622.50" y1="488.90" x2="622.50" y2="501.00" stroke="#86d3c2" stroke-width="1.3" />
<line x1="618.10" y1="488.50" x2="625.90" y2="488.50" stroke="#86d3c2" stroke-width="1.3" />
<line x1="618.10" y1="501.50" x2="625.90" y2="501.50" stroke="#86d3c2" stroke-width="1.3" />
<circle cx="642.60" cy="451.60" r="2.3" fill="#93c0e3" fill-opacity="0.95"/>
<circle cx="642.60" cy="494.30" r="2.3" fill="#93c0e3" fill-opacity="0.95"/>
<circle cx="637.60" cy="515.90" r="2.3" fill="#93c0e3" fill-opacity="0.95"/>
<circle cx="647.60" cy="515.90" r="2.3" fill="#93c0e3" fill-opacity="0.95"/>
<circle cx="637.60" cy="531.30" r="2.3" fill="#93c0e3" fill-opacity="0.95"/>
<circle cx="647.60" cy="530.70" r="2.3" fill="#93c0e3" fill-opacity="0.95"/>
<line x1="635.60" y1="507.50" x2="649.60" y2="507.50" stroke="#93c0e3" stroke-width="1.3" />
<line x1="642.50" y1="494.30" x2="642.50" y2="519.40" stroke="#93c0e3" stroke-width="1.3" />
<line x1="638.70" y1="494.50" x2="646.50" y2="494.50" stroke="#93c0e3" stroke-width="1.3" />
<line x1="638.70" y1="519.50" x2="646.50" y2="519.50" stroke="#93c0e3" stroke-width="1.3" />
<circle cx="658.40" cy="498.30" r="2.3" fill="#f6bcd6" fill-opacity="0.95"/>
<circle cx="668.40" cy="494.30" r="2.3" fill="#f6bcd6" fill-opacity="0.95"/>
<circle cx="663.40" cy="505.90" r="2.3" fill="#f6bcd6" fill-opacity="0.95"/>
<circle cx="658.40" cy="529.40" r="2.3" fill="#f6bcd6" fill-opacity="0.95"/>
<circle cx="668.40" cy="528.80" r="2.3" fill="#f6bcd6" fill-opacity="0.95"/>
<line x1="656.40" y1="511.50" x2="670.40" y2="511.50" stroke="#f6bcd6" stroke-width="1.3" />
<line x1="663.50" y1="505.00" x2="663.50" y2="517.20" stroke="#f6bcd6" stroke-width="1.3" />
<line x1="659.50" y1="505.50" x2="667.30" y2="505.50" stroke="#f6bcd6" stroke-width="1.3" />
<line x1="659.50" y1="517.50" x2="667.30" y2="517.50" stroke="#f6bcd6" stroke-width="1.3" />
<polyline points="580.20,445.70 580.20,438.90 599.40,438.90 599.40,445.70" fill="none" stroke="#231f20" stroke-width="1.25"/>
<text x="589.30" y="438.90" font-size="11" text-anchor="middle" font-weight="normal" fill="#231f20" >*</text>
<polyline points="602.60,445.70 602.60,438.90 622.00,438.90 622.00,445.70" fill="none" stroke="#231f20" stroke-width="1.25"/>
<text x="611.80" y="438.90" font-size="11" text-anchor="middle" font-weight="normal" fill="#231f20" >*</text>
<text x="630.50" y="428.90" font-size="9.7" text-anchor="start" font-weight="normal" fill="#231f20" >Day 60</text>
<line x1="629.00" y1="434.50" x2="672.80" y2="434.50" stroke="#4a3a3a" stroke-width="1.1" />
<line x1="561.20" y1="603.50" x2="573.90" y2="603.50" stroke="#231f20" stroke-width="1.25" />
<line x1="580.20" y1="603.50" x2="662.40" y2="603.50" stroke="#231f20" stroke-width="1.25" />
<text x="567.10" y="617.30" font-size="10.0" text-anchor="middle" font-weight="normal" fill="#231f20" >WT</text>
<text x="623.60" y="617.30" font-size="10.0" text-anchor="middle" font-weight="normal" fill="#231f20" >5×FAD</text>
<text x="368.00" y="633.90" font-size="12.5" text-anchor="start" font-weight="bold" fill="#231815" >h</text>
<text x="0" y="0" font-size="10.0" text-anchor="middle" fill="#231f20" transform="translate(377.30,711.00) rotate(-90)">Discrimination</text>
<text x="0" y="0" font-size="10.0" text-anchor="middle" fill="#231f20" transform="translate(389.50,711.00) rotate(-90)">index (%)</text>
<line x1="419.50" y1="658.90" x2="419.50" y2="763.10" stroke="#231f20" stroke-width="1.25" />
<line x1="414.90" y1="762.50" x2="419.50" y2="762.50" stroke="#231f20" stroke-width="1.25" />
<text x="413.20" y="766.20" font-size="10.0" text-anchor="end" font-weight="normal" fill="#231f20" >-100</text>
<line x1="414.90" y1="736.50" x2="419.50" y2="736.50" stroke="#231f20" stroke-width="1.25" />
<text x="413.20" y="740.47" font-size="10.0" text-anchor="end" font-weight="normal" fill="#231f20" >-50</text>
<line x1="414.90" y1="710.50" x2="419.50" y2="710.50" stroke="#231f20" stroke-width="1.25" />
<text x="413.20" y="714.75" font-size="10.0" text-anchor="end" font-weight="normal" fill="#231f20" >0</text>
<line x1="414.90" y1="685.50" x2="419.50" y2="685.50" stroke="#231f20" stroke-width="1.25" />
<text x="413.20" y="689.02" font-size="10.0" text-anchor="end" font-weight="normal" fill="#231f20" >50</text>
<line x1="414.90" y1="659.50" x2="419.50" y2="659.50" stroke="#231f20" stroke-width="1.25" />
<text x="413.20" y="663.30" font-size="10.0" text-anchor="end" font-weight="normal" fill="#231f20" >100</text>
<line x1="418.90" y1="762.50" x2="532.00" y2="762.50" stroke="#231f20" stroke-width="1.25" />
<line x1="420.40" y1="711.00" x2="532.00" y2="711.00" stroke="#231f20" stroke-width="1" stroke-dasharray="1.2,2.2"/>
<line x1="433.50" y1="762.50" x2="433.50" y2="767.10" stroke="#231f20" stroke-width="1.25" />
<text x="0" y="0" font-size="10.2" text-anchor="end" fill="#231f20" transform="translate(437.70,773.20) rotate(-45)">Saline</text>
<line x1="454.50" y1="762.50" x2="454.50" y2="767.10" stroke="#231f20" stroke-width="1.25" />
<text x="0" y="0" font-size="10.2" text-anchor="end" fill="#231f20" transform="translate(458.70,773.20) rotate(-45)">Saline</text>
<line x1="475.50" y1="762.50" x2="475.50" y2="767.10" stroke="#231f20" stroke-width="1.25" />
<text x="0" y="0" font-size="10.2" text-anchor="end" fill="#231f20" transform="translate(480.00,773.20) rotate(-45)">AAV-Lec-SK3</text>
<line x1="496.50" y1="762.50" x2="496.50" y2="767.10" stroke="#231f20" stroke-width="1.25" />
<text x="0" y="0" font-size="10.2" text-anchor="end" fill="#231f20" transform="translate(501.10,773.20) rotate(-45)">AAV-Lec</text>
<line x1="518.50" y1="762.50" x2="518.50" y2="767.10" stroke="#231f20" stroke-width="1.25" />
<text x="0" y="0" font-size="10.2" text-anchor="end" fill="#231f20" transform="translate(522.20,773.20) rotate(-45)">AAV-GFP</text>
<circle cx="428.50" cy="686.50" r="2.3" fill="#a6d15b" fill-opacity="0.95"/>
<circle cx="438.50" cy="683.70" r="2.3" fill="#a6d15b" fill-opacity="0.95"/>
<circle cx="438.50" cy="690.00" r="2.3" fill="#a6d15b" fill-opacity="0.95"/>
<circle cx="433.50" cy="696.50" r="2.3" fill="#a6d15b" fill-opacity="0.95"/>
<circle cx="428.50" cy="703.40" r="2.3" fill="#a6d15b" fill-opacity="0.95"/>
<circle cx="438.50" cy="702.30" r="2.3" fill="#a6d15b" fill-opacity="0.95"/>
<line x1="426.50" y1="694.50" x2="440.50" y2="694.50" stroke="#a6d15b" stroke-width="1.3" />
<line x1="433.50" y1="690.30" x2="433.50" y2="697.70" stroke="#a6d15b" stroke-width="1.3" />
<line x1="429.60" y1="690.50" x2="437.40" y2="690.50" stroke="#a6d15b" stroke-width="1.3" />
<line x1="429.60" y1="697.50" x2="437.40" y2="697.50" stroke="#a6d15b" stroke-width="1.3" />
<circle cx="454.50" cy="700.00" r="2.3" fill="#c5c1e5" fill-opacity="0.95"/>
<circle cx="449.50" cy="705.80" r="2.3" fill="#c5c1e5" fill-opacity="0.95"/>
<circle cx="459.50" cy="706.30" r="2.3" fill="#c5c1e5" fill-opacity="0.95"/>
<circle cx="454.50" cy="717.50" r="2.3" fill="#c5c1e5" fill-opacity="0.95"/>
<circle cx="449.50" cy="738.20" r="2.3" fill="#c5c1e5" fill-opacity="0.95"/>
<circle cx="459.50" cy="734.90" r="2.3" fill="#c5c1e5" fill-opacity="0.95"/>
<line x1="447.50" y1="717.50" x2="461.50" y2="717.50" stroke="#c5c1e5" stroke-width="1.3" />
<line x1="454.50" y1="711.00" x2="454.50" y2="723.40" stroke="#c5c1e5" stroke-width="1.3" />
<line x1="450.60" y1="711.50" x2="458.40" y2="711.50" stroke="#c5c1e5" stroke-width="1.3" />
<line x1="450.60" y1="723.50" x2="458.40" y2="723.50" stroke="#c5c1e5" stroke-width="1.3" />
<circle cx="470.80" cy="681.90" r="2.3" fill="#86d3c2" fill-opacity="0.95"/>
<circle cx="480.80" cy="681.90" r="2.3" fill="#86d3c2" fill-opacity="0.95"/>
<circle cx="480.80" cy="686.00" r="2.3" fill="#86d3c2" fill-opacity="0.95"/>
<circle cx="475.80" cy="693.10" r="2.3" fill="#86d3c2" fill-opacity="0.95"/>
<circle cx="475.80" cy="708.00" r="2.3" fill="#86d3c2" fill-opacity="0.95"/>
<circle cx="475.80" cy="715.20" r="2.3" fill="#86d3c2" fill-opacity="0.95"/>
<line x1="468.80" y1="694.50" x2="482.80" y2="694.50" stroke="#86d3c2" stroke-width="1.3" />
<line x1="475.50" y1="688.10" x2="475.50" y2="700.60" stroke="#86d3c2" stroke-width="1.3" />
<line x1="471.90" y1="688.50" x2="479.70" y2="688.50" stroke="#86d3c2" stroke-width="1.3" />
<line x1="471.90" y1="700.50" x2="479.70" y2="700.50" stroke="#86d3c2" stroke-width="1.3" />
<circle cx="496.90" cy="691.50" r="2.3" fill="#93c0e3" fill-opacity="0.95"/>
<circle cx="491.90" cy="702.60" r="2.3" fill="#93c0e3" fill-opacity="0.95"/>
<circle cx="501.90" cy="706.30" r="2.3" fill="#93c0e3" fill-opacity="0.95"/>
<circle cx="496.90" cy="710.00" r="2.3" fill="#93c0e3" fill-opacity="0.95"/>
<circle cx="496.90" cy="714.90" r="2.3" fill="#93c0e3" fill-opacity="0.95"/>
<circle cx="496.90" cy="725.20" r="2.3" fill="#93c0e3" fill-opacity="0.95"/>
<line x1="489.90" y1="707.50" x2="503.90" y2="707.50" stroke="#93c0e3" stroke-width="1.3" />
<line x1="496.50" y1="703.70" x2="496.50" y2="713.60" stroke="#93c0e3" stroke-width="1.3" />
<line x1="493.00" y1="703.50" x2="500.80" y2="703.50" stroke="#93c0e3" stroke-width="1.3" />
<line x1="493.00" y1="713.50" x2="500.80" y2="713.50" stroke="#93c0e3" stroke-width="1.3" />
<circle cx="518.00" cy="693.50" r="2.3" fill="#f6bcd6" fill-opacity="0.95"/>
<circle cx="513.00" cy="703.70" r="2.3" fill="#f6bcd6" fill-opacity="0.95"/>
<circle cx="523.00" cy="703.70" r="2.3" fill="#f6bcd6" fill-opacity="0.95"/>
<circle cx="518.00" cy="708.00" r="2.3" fill="#f6bcd6" fill-opacity="0.95"/>
<circle cx="518.00" cy="711.00" r="2.3" fill="#f6bcd6" fill-opacity="0.95"/>
<circle cx="518.00" cy="732.90" r="2.3" fill="#f6bcd6" fill-opacity="0.95"/>
<line x1="511.00" y1="707.50" x2="525.00" y2="707.50" stroke="#f6bcd6" stroke-width="1.3" />
<line x1="518.50" y1="703.20" x2="518.50" y2="714.00" stroke="#f6bcd6" stroke-width="1.3" />
<line x1="514.10" y1="703.50" x2="521.90" y2="703.50" stroke="#f6bcd6" stroke-width="1.3" />
<line x1="514.10" y1="714.50" x2="521.90" y2="714.50" stroke="#f6bcd6" stroke-width="1.3" />
<polyline points="433.50,675.90 433.50,669.40 453.20,669.40 453.20,675.90" fill="none" stroke="#231f20" stroke-width="1.25"/>
<text x="442.85" y="670.10" font-size="11" text-anchor="middle" font-weight="normal" fill="#231f20" >*</text>
<polyline points="456.30,675.90 456.30,669.40 475.80,669.40 475.80,675.90" fill="none" stroke="#231f20" stroke-width="1.25"/>
<text x="465.55" y="670.10" font-size="11" text-anchor="middle" font-weight="normal" fill="#231f20" >*</text>
<text x="489.00" y="640.90" font-size="9.7" text-anchor="start" font-weight="normal" fill="#231f20" >Day 20</text>
<line x1="487.50" y1="646.50" x2="531.00" y2="646.50" stroke="#4a3a3a" stroke-width="1.1" />
<line x1="413.90" y1="824.50" x2="426.60" y2="824.50" stroke="#231f20" stroke-width="1.25" />
<line x1="437.80" y1="824.50" x2="516.90" y2="824.50" stroke="#231f20" stroke-width="1.25" />
<text x="421.30" y="837.20" font-size="10.0" text-anchor="middle" font-weight="normal" fill="#231f20" >WT</text>
<text x="474.80" y="837.20" font-size="10.0" text-anchor="middle" font-weight="normal" fill="#231f20" >5×FAD</text>
<line x1="567.50" y1="659.10" x2="567.50" y2="763.10" stroke="#231f20" stroke-width="1.25" />
<line x1="562.90" y1="762.50" x2="567.50" y2="762.50" stroke="#231f20" stroke-width="1.25" />
<text x="560.00" y="766.70" font-size="10.0" text-anchor="end" font-weight="normal" fill="#231f20" >-100</text>
<line x1="562.90" y1="736.50" x2="567.50" y2="736.50" stroke="#231f20" stroke-width="1.25" />
<text x="560.00" y="740.98" font-size="10.0" text-anchor="end" font-weight="normal" fill="#231f20" >-50</text>
<line x1="562.90" y1="711.50" x2="567.50" y2="711.50" stroke="#231f20" stroke-width="1.25" />
<text x="560.00" y="715.25" font-size="10.0" text-anchor="end" font-weight="normal" fill="#231f20" >0</text>
<line x1="562.90" y1="685.50" x2="567.50" y2="685.50" stroke="#231f20" stroke-width="1.25" />
<text x="560.00" y="689.53" font-size="10.0" text-anchor="end" font-weight="normal" fill="#231f20" >50</text>
<line x1="562.90" y1="659.50" x2="567.50" y2="659.50" stroke="#231f20" stroke-width="1.25" />
<text x="560.00" y="663.80" font-size="10.0" text-anchor="end" font-weight="normal" fill="#231f20" >100</text>
<line x1="566.90" y1="762.50" x2="679.60" y2="762.50" stroke="#231f20" stroke-width="1.25" />
<line x1="568.00" y1="711.30" x2="679.60" y2="711.30" stroke="#231f20" stroke-width="1" stroke-dasharray="1.2,2.2"/>
<line x1="581.50" y1="762.50" x2="581.50" y2="767.10" stroke="#231f20" stroke-width="1.25" />
<text x="0" y="0" font-size="10.2" text-anchor="end" fill="#231f20" transform="translate(585.20,773.40) rotate(-45)">Saline</text>
<line x1="602.50" y1="762.50" x2="602.50" y2="767.10" stroke="#231f20" stroke-width="1.25" />
<text x="0" y="0" font-size="10.2" text-anchor="end" fill="#231f20" transform="translate(606.30,773.40) rotate(-45)">Saline</text>
<line x1="623.50" y1="762.50" x2="623.50" y2="767.10" stroke="#231f20" stroke-width="1.25" />
<text x="0" y="0" font-size="10.2" text-anchor="end" fill="#231f20" transform="translate(627.60,773.40) rotate(-45)">AAV-Lec-SK3</text>
<line x1="644.50" y1="762.50" x2="644.50" y2="767.10" stroke="#231f20" stroke-width="1.25" />
<text x="0" y="0" font-size="10.2" text-anchor="end" fill="#231f20" transform="translate(648.70,773.40) rotate(-45)">AAV-Lec</text>
<line x1="665.50" y1="762.50" x2="665.50" y2="767.10" stroke="#231f20" stroke-width="1.25" />
<text x="0" y="0" font-size="10.2" text-anchor="end" fill="#231f20" transform="translate(669.50,773.40) rotate(-45)">AAV-GFP</text>
<circle cx="581.00" cy="680.00" r="2.3" fill="#a6d15b" fill-opacity="0.95"/>
<circle cx="576.00" cy="697.00" r="2.3" fill="#a6d15b" fill-opacity="0.95"/>
<circle cx="586.00" cy="698.80" r="2.3" fill="#a6d15b" fill-opacity="0.95"/>
<circle cx="581.00" cy="699.00" r="2.3" fill="#a6d15b" fill-opacity="0.95"/>
<circle cx="586.00" cy="703.70" r="2.3" fill="#a6d15b" fill-opacity="0.95"/>
<circle cx="581.00" cy="711.30" r="2.3" fill="#a6d15b" fill-opacity="0.95"/>
<line x1="574.00" y1="698.50" x2="588.00" y2="698.50" stroke="#a6d15b" stroke-width="1.3" />
<line x1="581.50" y1="695.00" x2="581.50" y2="702.40" stroke="#a6d15b" stroke-width="1.3" />
<line x1="577.10" y1="695.50" x2="584.90" y2="695.50" stroke="#a6d15b" stroke-width="1.3" />
<line x1="577.10" y1="702.50" x2="584.90" y2="702.50" stroke="#a6d15b" stroke-width="1.3" />
<circle cx="602.10" cy="732.00" r="2.3" fill="#c5c1e5" fill-opacity="0.95"/>
<circle cx="602.10" cy="738.80" r="2.3" fill="#c5c1e5" fill-opacity="0.95"/>
<circle cx="597.10" cy="745.60" r="2.3" fill="#c5c1e5" fill-opacity="0.95"/>
<circle cx="607.10" cy="745.60" r="2.3" fill="#c5c1e5" fill-opacity="0.95"/>
<circle cx="602.10" cy="751.00" r="2.3" fill="#c5c1e5" fill-opacity="0.95"/>
<circle cx="602.10" cy="759.00" r="2.3" fill="#c5c1e5" fill-opacity="0.95"/>
<line x1="595.10" y1="745.50" x2="609.10" y2="745.50" stroke="#c5c1e5" stroke-width="1.3" />
<line x1="602.50" y1="741.50" x2="602.50" y2="749.60" stroke="#c5c1e5" stroke-width="1.3" />
<line x1="598.20" y1="741.50" x2="606.00" y2="741.50" stroke="#c5c1e5" stroke-width="1.3" />
<line x1="598.20" y1="749.50" x2="606.00" y2="749.50" stroke="#c5c1e5" stroke-width="1.3" />
<circle cx="623.40" cy="690.80" r="2.3" fill="#86d3c2" fill-opacity="0.95"/>
<circle cx="618.40" cy="698.30" r="2.3" fill="#86d3c2" fill-opacity="0.95"/>
<circle cx="628.40" cy="700.50" r="2.3" fill="#86d3c2" fill-opacity="0.95"/>
<circle cx="623.40" cy="705.00" r="2.3" fill="#86d3c2" fill-opacity="0.95"/>
<circle cx="623.40" cy="714.50" r="2.3" fill="#86d3c2" fill-opacity="0.95"/>
<circle cx="623.40" cy="721.80" r="2.3" fill="#86d3c2" fill-opacity="0.95"/>
<line x1="616.40" y1="705.50" x2="630.40" y2="705.50" stroke="#86d3c2" stroke-width="1.3" />
<line x1="623.50" y1="699.70" x2="623.50" y2="709.10" stroke="#86d3c2" stroke-width="1.3" />
<line x1="619.50" y1="699.50" x2="627.30" y2="699.50" stroke="#86d3c2" stroke-width="1.3" />
<line x1="619.50" y1="709.50" x2="627.30" y2="709.50" stroke="#86d3c2" stroke-width="1.3" />
<circle cx="644.50" cy="693.70" r="2.3" fill="#93c0e3" fill-opacity="0.95"/>
<circle cx="644.50" cy="707.00" r="2.3" fill="#93c0e3" fill-opacity="0.95"/>
<circle cx="644.50" cy="713.20" r="2.3" fill="#93c0e3" fill-opacity="0.95"/>
<circle cx="644.50" cy="730.70" r="2.3" fill="#93c0e3" fill-opacity="0.95"/>
<circle cx="644.50" cy="750.20" r="2.3" fill="#93c0e3" fill-opacity="0.95"/>
<line x1="637.50" y1="720.50" x2="651.50" y2="720.50" stroke="#93c0e3" stroke-width="1.3" />
<line x1="644.50" y1="711.80" x2="644.50" y2="728.00" stroke="#93c0e3" stroke-width="1.3" />
<line x1="640.60" y1="711.50" x2="648.40" y2="711.50" stroke="#93c0e3" stroke-width="1.3" />
<line x1="640.60" y1="728.50" x2="648.40" y2="728.50" stroke="#93c0e3" stroke-width="1.3" />
<circle cx="665.30" cy="711.30" r="2.3" fill="#f6bcd6" fill-opacity="0.95"/>
<circle cx="665.30" cy="730.70" r="2.3" fill="#f6bcd6" fill-opacity="0.95"/>
<circle cx="660.30" cy="741.50" r="2.3" fill="#f6bcd6" fill-opacity="0.95"/>
<circle cx="670.30" cy="741.50" r="2.3" fill="#f6bcd6" fill-opacity="0.95"/>
<circle cx="660.30" cy="752.30" r="2.3" fill="#f6bcd6" fill-opacity="0.95"/>
<circle cx="670.30" cy="750.20" r="2.3" fill="#f6bcd6" fill-opacity="0.95"/>
<line x1="658.30" y1="738.50" x2="672.30" y2="738.50" stroke="#f6bcd6" stroke-width="1.3" />
<line x1="665.50" y1="730.70" x2="665.50" y2="745.60" stroke="#f6bcd6" stroke-width="1.3" />
<line x1="661.40" y1="730.50" x2="669.20" y2="730.50" stroke="#f6bcd6" stroke-width="1.3" />
<line x1="661.40" y1="745.50" x2="669.20" y2="745.50" stroke="#f6bcd6" stroke-width="1.3" />
<polyline points="581.00,667.30 581.00,661.00 600.50,661.00 600.50,667.30" fill="none" stroke="#231f20" stroke-width="1.25"/>
<text x="590.25" y="660.90" font-size="11" text-anchor="middle" font-weight="normal" fill="#231f20" >****</text>
<polyline points="604.00,667.30 604.00,661.00 644.50,661.00 644.50,667.30" fill="none" stroke="#231f20" stroke-width="1.25"/>
<text x="623.75" y="660.90" font-size="11" text-anchor="middle" font-weight="normal" fill="#231f20" >*</text>
<polyline points="602.00,684.80 602.00,678.00 623.40,678.00 623.40,684.80" fill="none" stroke="#231f20" stroke-width="1.25"/>
<text x="612.20" y="678.60" font-size="11" text-anchor="middle" font-weight="normal" fill="#231f20" >***</text>
<text x="631.90" y="640.50" font-size="9.7" text-anchor="start" font-weight="normal" fill="#231f20" >Day 60</text>
<line x1="630.40" y1="646.50" x2="673.40" y2="646.50" stroke="#4a3a3a" stroke-width="1.1" />
<line x1="562.20" y1="823.50" x2="574.60" y2="823.50" stroke="#231f20" stroke-width="1.25" />
<line x1="585.50" y1="823.50" x2="664.70" y2="823.50" stroke="#231f20" stroke-width="1.25" />
<text x="568.90" y="836.70" font-size="10.0" text-anchor="middle" font-weight="normal" fill="#231f20" >WT</text>
<text x="623.10" y="836.70" font-size="10.0" text-anchor="middle" font-weight="normal" fill="#231f20" >5×FAD</text>
<text x="7.00" y="634.30" font-size="12.5" text-anchor="start" font-weight="bold" fill="#231815" >g</text>
<rect x="32.50" y="683.50" width="55.00" height="54.50" fill="none" stroke="#3d3333" stroke-width="1.25"/>
<path d="M47.70,731.80 C50.50,731.10 53.50,731.40 56.80,731.00" fill="none" stroke="#f3a6a6" stroke-width="0.6"/>
<ellipse cx="42.50" cy="732.80" rx="5.1" ry="2.9" fill="#8b8787"/>
<ellipse cx="37.50" cy="729.80" rx="2.9" ry="1.9" fill="#8b8787" transform="rotate(28 37.50 729.80)"/>
<circle cx="38.90" cy="729.00" r="0.9" fill="#ee8f8f"/>
<circle cx="35.10" cy="728.40" r="0.5" fill="#d07a7a"/>
<path d="M38.50,735.00 L37.70,737.00 M45.00,735.50 L46.50,736.40" stroke="#f0a0a0" stroke-width="0.7"/>
<rect x="155.50" y="684.00" width="55.00" height="54.50" fill="none" stroke="#3d3333" stroke-width="1.25"/>
<path d="M170.70,732.30 C173.50,731.60 176.50,731.90 179.80,731.50" fill="none" stroke="#f3a6a6" stroke-width="0.6"/>
<ellipse cx="165.50" cy="733.30" rx="5.1" ry="2.9" fill="#8b8787"/>
<ellipse cx="160.50" cy="730.30" rx="2.9" ry="1.9" fill="#8b8787" transform="rotate(28 160.50 730.30)"/>
<circle cx="161.90" cy="729.50" r="0.9" fill="#ee8f8f"/>
<circle cx="158.10" cy="728.90" r="0.5" fill="#d07a7a"/>
<path d="M161.50,735.50 L160.70,737.50 M168.00,736.00 L169.50,736.90" stroke="#f0a0a0" stroke-width="0.7"/>
<circle cx="171.9" cy="698.9" r="3.8" fill="none" stroke="#3d3333" stroke-width="1.1"/>
<circle cx="194.3" cy="722.7" r="3.8" fill="none" stroke="#3d3333" stroke-width="1.1"/>
<rect x="275.50" y="684.00" width="55.00" height="54.50" fill="none" stroke="#3d3333" stroke-width="1.25"/>
<path d="M290.70,732.30 C293.50,731.60 296.50,731.90 299.80,731.50" fill="none" stroke="#f3a6a6" stroke-width="0.6"/>
<ellipse cx="285.50" cy="733.30" rx="5.1" ry="2.9" fill="#8b8787"/>
<ellipse cx="280.50" cy="730.30" rx="2.9" ry="1.9" fill="#8b8787" transform="rotate(28 280.50 730.30)"/>
<circle cx="281.90" cy="729.50" r="0.9" fill="#ee8f8f"/>
<circle cx="278.10" cy="728.90" r="0.5" fill="#d07a7a"/>
<path d="M281.50,735.50 L280.70,737.50 M288.00,736.00 L289.50,736.90" stroke="#f0a0a0" stroke-width="0.7"/>
<circle cx="291.0" cy="698.6" r="3.8" fill="none" stroke="#3d3333" stroke-width="1.1"/>
<rect x="309.8" y="718.5" width="9.2" height="9.0" fill="none" stroke="#3d3333" stroke-width="1.1"/>
<line x1="98.30" y1="710.50" x2="140.40" y2="710.50" stroke="#2f2222" stroke-width="1.2" />
<path d="M135.60,705.40 L144.40,710.40 L135.60,715.40 L137.00,710.40 Z" fill="#2f2222"/>
<line x1="220.90" y1="710.50" x2="263.00" y2="710.50" stroke="#2f2222" stroke-width="1.2" />
<path d="M258.20,705.60 L267.00,710.60 L258.20,715.60 L259.60,710.60 Z" fill="#2f2222"/>
<text x="120.80" y="726.90" font-size="10.2" text-anchor="middle" font-weight="normal" fill="#231f20" >24 h</text>
<text x="242.50" y="726.70" font-size="10.2" text-anchor="middle" font-weight="normal" fill="#231f20" >3 h</text>
<text x="60.90" y="753.80" font-size="10.2" text-anchor="middle" font-weight="normal" fill="#231f20" >Habituation</text>
<text x="60.90" y="766.00" font-size="10.2" text-anchor="middle" font-weight="normal" fill="#231f20" >10 min</text>
<text x="183.00" y="753.80" font-size="10.2" text-anchor="middle" font-weight="normal" fill="#231f20" >Training</text>
<text x="183.00" y="766.00" font-size="10.2" text-anchor="middle" font-weight="normal" fill="#231f20" >10 min</text>
<text x="304.70" y="753.80" font-size="10.2" text-anchor="middle" font-weight="normal" fill="#231f20" >Testing</text>
<text x="304.70" y="766.00" font-size="10.2" text-anchor="middle" font-weight="normal" fill="#231f20" >10 min</text>
</svg>
</body></html>
